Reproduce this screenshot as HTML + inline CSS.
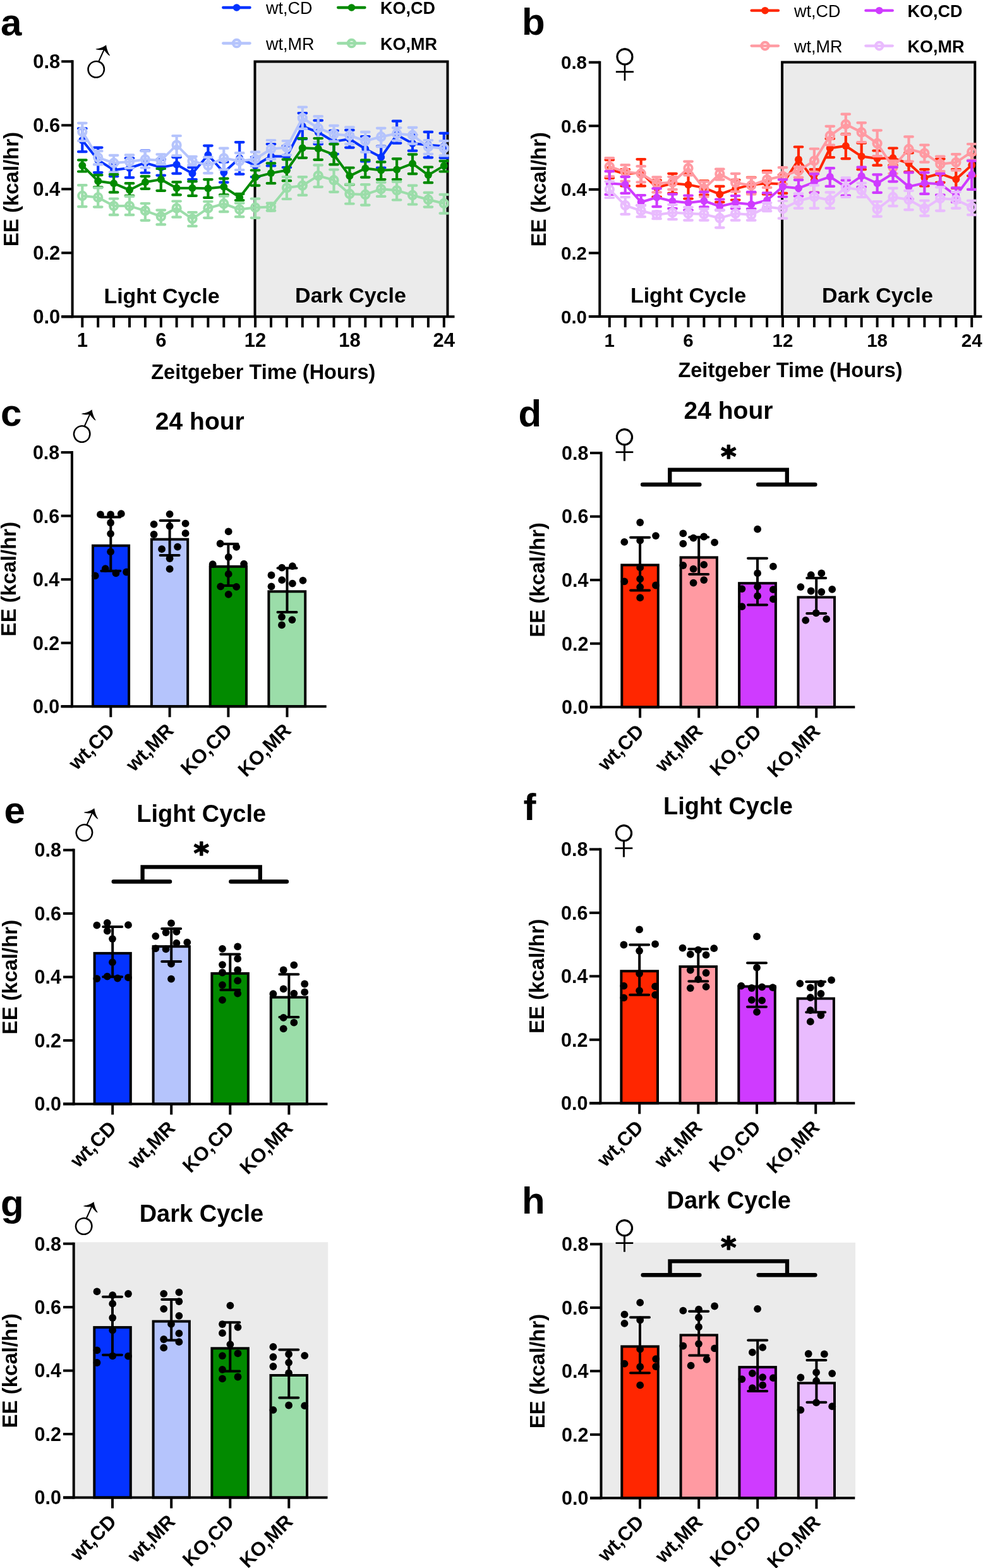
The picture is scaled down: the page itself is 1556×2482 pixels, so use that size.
<!DOCTYPE html>
<html><head><meta charset="utf-8"><title>Energy expenditure</title>
<style>html,body{margin:0;padding:0;background:#fff;} svg{display:block;} text{font-family:'Liberation Sans', Arial, Helvetica, sans-serif;fill:#000;}</style>
</head><body>
<svg width="1556" height="2482" viewBox="0 0 1556 2482">
<rect width="1556" height="2482" fill="#fff"/>
<rect x="403.5" y="97.6" width="305.0" height="403.7" fill="#EBEBEB"/>
<path d="M403.5,501.3V97.6H708.5V501.3" stroke="#000" stroke-width="4" fill="none" stroke-linejoin="miter"/>
<clipPath id="clipA"><rect x="114.6" y="0" width="596.0" height="501.3"/></clipPath>
<g clip-path="url(#clipA)">
<path d="M130.3,203.4V240.2M124.0,203.4H136.6M124.0,240.2H136.6" stroke="#0433FF" stroke-width="4.2" fill="none" stroke-linecap="round"/>
<path d="M155.2,233.6V273.0M148.9,233.6H161.5M148.9,273.0H161.5" stroke="#0433FF" stroke-width="4.2" fill="none" stroke-linecap="round"/>
<path d="M180.1,258.9V279.1M173.8,258.9H186.4M173.8,279.1H186.4" stroke="#0433FF" stroke-width="4.2" fill="none" stroke-linecap="round"/>
<path d="M205.0,250.3V281.1M198.7,250.3H211.3M198.7,281.1H211.3" stroke="#0433FF" stroke-width="4.2" fill="none" stroke-linecap="round"/>
<path d="M229.9,238.7V273.5M223.6,238.7H236.2M223.6,273.5H236.2" stroke="#0433FF" stroke-width="4.2" fill="none" stroke-linecap="round"/>
<path d="M254.8,252.3V277.6M248.4,252.3H261.1M248.4,277.6H261.1" stroke="#0433FF" stroke-width="4.2" fill="none" stroke-linecap="round"/>
<path d="M279.6,248.8V274.6M273.3,248.8H285.9M273.3,274.6H285.9" stroke="#0433FF" stroke-width="4.2" fill="none" stroke-linecap="round"/>
<path d="M304.5,265.0V284.1M298.2,265.0H310.8M298.2,284.1H310.8" stroke="#0433FF" stroke-width="4.2" fill="none" stroke-linecap="round"/>
<path d="M329.4,230.6V259.9M323.1,230.6H335.7M323.1,259.9H335.7" stroke="#0433FF" stroke-width="4.2" fill="none" stroke-linecap="round"/>
<path d="M354.3,256.4V288.7M348.0,256.4H360.6M348.0,288.7H360.6" stroke="#0433FF" stroke-width="4.2" fill="none" stroke-linecap="round"/>
<path d="M379.2,225.1V275.6M372.9,225.1H385.5M372.9,275.6H385.5" stroke="#0433FF" stroke-width="4.2" fill="none" stroke-linecap="round"/>
<path d="M404.1,248.8V280.1M397.8,248.8H410.4M397.8,280.1H410.4" stroke="#0433FF" stroke-width="4.2" fill="none" stroke-linecap="round"/>
<path d="M429.0,228.1V262.4M422.7,228.1H435.3M422.7,262.4H435.3" stroke="#0433FF" stroke-width="4.2" fill="none" stroke-linecap="round"/>
<path d="M453.9,231.1V265.0M447.6,231.1H460.2M447.6,265.0H460.2" stroke="#0433FF" stroke-width="4.2" fill="none" stroke-linecap="round"/>
<path d="M478.8,179.1V220.0M472.5,179.1H485.1M472.5,220.0H485.1" stroke="#0433FF" stroke-width="4.2" fill="none" stroke-linecap="round"/>
<path d="M503.7,190.7V228.1M497.4,190.7H510.0M497.4,228.1H510.0" stroke="#0433FF" stroke-width="4.2" fill="none" stroke-linecap="round"/>
<path d="M528.5,206.9V243.8M522.2,206.9H534.8M522.2,243.8H534.8" stroke="#0433FF" stroke-width="4.2" fill="none" stroke-linecap="round"/>
<path d="M553.4,205.9V233.6M547.1,205.9H559.7M547.1,233.6H559.7" stroke="#0433FF" stroke-width="4.2" fill="none" stroke-linecap="round"/>
<path d="M578.3,216.0V255.4M572.0,216.0H584.6M572.0,255.4H584.6" stroke="#0433FF" stroke-width="4.2" fill="none" stroke-linecap="round"/>
<path d="M603.2,231.6V265.5M596.9,231.6H609.5M596.9,265.5H609.5" stroke="#0433FF" stroke-width="4.2" fill="none" stroke-linecap="round"/>
<path d="M628.1,191.7V226.6M621.8,191.7H634.4M621.8,226.6H634.4" stroke="#0433FF" stroke-width="4.2" fill="none" stroke-linecap="round"/>
<path d="M653.0,213.5V238.7M646.7,213.5H659.3M646.7,238.7H659.3" stroke="#0433FF" stroke-width="4.2" fill="none" stroke-linecap="round"/>
<path d="M677.9,208.9V249.3M671.6,208.9H684.2M671.6,249.3H684.2" stroke="#0433FF" stroke-width="4.2" fill="none" stroke-linecap="round"/>
<path d="M702.8,210.9V249.8M696.5,210.9H709.1M696.5,249.8H709.1" stroke="#0433FF" stroke-width="4.2" fill="none" stroke-linecap="round"/>
<path d="M130.3,222.0 L155.2,253.3 L180.1,269.0 L205.0,266.0 L229.9,257.9 L254.8,265.0 L279.6,260.4 L304.5,274.6 L329.4,245.3 L354.3,273.0 L379.2,250.3 L404.1,261.9 L429.0,247.3 L453.9,247.8 L478.8,199.8 L503.7,209.4 L528.5,224.1 L553.4,220.0 L578.3,235.7 L603.2,248.8 L628.1,213.5 L653.0,227.1 L677.9,229.6 L702.8,231.6" stroke="#0433FF" stroke-width="4" fill="none" stroke-linejoin="round"/>
<circle cx="130.3" cy="222.0" r="6.0" fill="#0433FF"/>
<circle cx="155.2" cy="253.3" r="6.0" fill="#0433FF"/>
<circle cx="180.1" cy="269.0" r="6.0" fill="#0433FF"/>
<circle cx="205.0" cy="266.0" r="6.0" fill="#0433FF"/>
<circle cx="229.9" cy="257.9" r="6.0" fill="#0433FF"/>
<circle cx="254.8" cy="265.0" r="6.0" fill="#0433FF"/>
<circle cx="279.6" cy="260.4" r="6.0" fill="#0433FF"/>
<circle cx="304.5" cy="274.6" r="6.0" fill="#0433FF"/>
<circle cx="329.4" cy="245.3" r="6.0" fill="#0433FF"/>
<circle cx="354.3" cy="273.0" r="6.0" fill="#0433FF"/>
<circle cx="379.2" cy="250.3" r="6.0" fill="#0433FF"/>
<circle cx="404.1" cy="261.9" r="6.0" fill="#0433FF"/>
<circle cx="429.0" cy="247.3" r="6.0" fill="#0433FF"/>
<circle cx="453.9" cy="247.8" r="6.0" fill="#0433FF"/>
<circle cx="478.8" cy="199.8" r="6.0" fill="#0433FF"/>
<circle cx="503.7" cy="209.4" r="6.0" fill="#0433FF"/>
<circle cx="528.5" cy="224.1" r="6.0" fill="#0433FF"/>
<circle cx="553.4" cy="220.0" r="6.0" fill="#0433FF"/>
<circle cx="578.3" cy="235.7" r="6.0" fill="#0433FF"/>
<circle cx="603.2" cy="248.8" r="6.0" fill="#0433FF"/>
<circle cx="628.1" cy="213.5" r="6.0" fill="#0433FF"/>
<circle cx="653.0" cy="227.1" r="6.0" fill="#0433FF"/>
<circle cx="677.9" cy="229.6" r="6.0" fill="#0433FF"/>
<circle cx="702.8" cy="231.6" r="6.0" fill="#0433FF"/>
<path d="M130.3,194.8V223.0M124.0,194.8H136.6M124.0,223.0H136.6" stroke="#B5C4FC" stroke-width="4.2" fill="none" stroke-linecap="round"/>
<path d="M155.2,239.2V260.4M148.9,239.2H161.5M148.9,260.4H161.5" stroke="#B5C4FC" stroke-width="4.2" fill="none" stroke-linecap="round"/>
<path d="M180.1,245.8V272.5M173.8,245.8H186.4M173.8,272.5H186.4" stroke="#B5C4FC" stroke-width="4.2" fill="none" stroke-linecap="round"/>
<path d="M205.0,245.3V266.0M198.7,245.3H211.3M198.7,266.0H211.3" stroke="#B5C4FC" stroke-width="4.2" fill="none" stroke-linecap="round"/>
<path d="M229.9,239.2V265.5M223.6,239.2H236.2M223.6,265.5H236.2" stroke="#B5C4FC" stroke-width="4.2" fill="none" stroke-linecap="round"/>
<path d="M254.8,244.3V259.9M248.4,244.3H261.1M248.4,259.9H261.1" stroke="#B5C4FC" stroke-width="4.2" fill="none" stroke-linecap="round"/>
<path d="M279.6,215.0V246.3M273.3,215.0H285.9M273.3,246.3H285.9" stroke="#B5C4FC" stroke-width="4.2" fill="none" stroke-linecap="round"/>
<path d="M304.5,247.8V261.4M298.2,247.8H310.8M298.2,261.4H310.8" stroke="#B5C4FC" stroke-width="4.2" fill="none" stroke-linecap="round"/>
<path d="M329.4,248.8V274.1M323.1,248.8H335.7M323.1,274.1H335.7" stroke="#B5C4FC" stroke-width="4.2" fill="none" stroke-linecap="round"/>
<path d="M354.3,234.7V268.5M348.0,234.7H360.6M348.0,268.5H360.6" stroke="#B5C4FC" stroke-width="4.2" fill="none" stroke-linecap="round"/>
<path d="M379.2,242.2V269.0M372.9,242.2H385.5M372.9,269.0H385.5" stroke="#B5C4FC" stroke-width="4.2" fill="none" stroke-linecap="round"/>
<path d="M404.1,240.7V262.9M397.8,240.7H410.4M397.8,262.9H410.4" stroke="#B5C4FC" stroke-width="4.2" fill="none" stroke-linecap="round"/>
<path d="M429.0,222.0V251.8M422.7,222.0H435.3M422.7,251.8H435.3" stroke="#B5C4FC" stroke-width="4.2" fill="none" stroke-linecap="round"/>
<path d="M453.9,223.0V245.3M447.6,223.0H460.2M447.6,245.3H460.2" stroke="#B5C4FC" stroke-width="4.2" fill="none" stroke-linecap="round"/>
<path d="M478.8,169.5V203.9M472.5,169.5H485.1M472.5,203.9H485.1" stroke="#B5C4FC" stroke-width="4.2" fill="none" stroke-linecap="round"/>
<path d="M503.7,184.2V225.1M497.4,184.2H510.0M497.4,225.1H510.0" stroke="#B5C4FC" stroke-width="4.2" fill="none" stroke-linecap="round"/>
<path d="M528.5,198.8V223.6M522.2,198.8H534.8M522.2,223.6H534.8" stroke="#B5C4FC" stroke-width="4.2" fill="none" stroke-linecap="round"/>
<path d="M553.4,201.3V228.1M547.1,201.3H559.7M547.1,228.1H559.7" stroke="#B5C4FC" stroke-width="4.2" fill="none" stroke-linecap="round"/>
<path d="M578.3,208.9V240.7M572.0,208.9H584.6M572.0,240.7H584.6" stroke="#B5C4FC" stroke-width="4.2" fill="none" stroke-linecap="round"/>
<path d="M603.2,202.8V232.1M596.9,202.8H609.5M596.9,232.1H609.5" stroke="#B5C4FC" stroke-width="4.2" fill="none" stroke-linecap="round"/>
<path d="M628.1,202.3V222.5M621.8,202.3H634.4M621.8,222.5H634.4" stroke="#B5C4FC" stroke-width="4.2" fill="none" stroke-linecap="round"/>
<path d="M653.0,201.8V227.6M646.7,201.8H659.3M646.7,227.6H659.3" stroke="#B5C4FC" stroke-width="4.2" fill="none" stroke-linecap="round"/>
<path d="M677.9,222.0V243.8M671.6,222.0H684.2M671.6,243.8H684.2" stroke="#B5C4FC" stroke-width="4.2" fill="none" stroke-linecap="round"/>
<path d="M702.8,223.0V246.3M696.5,223.0H709.1M696.5,246.3H709.1" stroke="#B5C4FC" stroke-width="4.2" fill="none" stroke-linecap="round"/>
<path d="M130.3,208.4 L155.2,249.3 L180.1,257.9 L205.0,255.9 L229.9,252.3 L254.8,253.9 L279.6,229.6 L304.5,254.9 L329.4,261.9 L354.3,250.3 L379.2,254.9 L404.1,251.8 L429.0,235.7 L453.9,233.6 L478.8,186.7 L503.7,202.8 L528.5,212.4 L553.4,214.5 L578.3,223.0 L603.2,216.5 L628.1,211.4 L653.0,214.0 L677.9,232.6 L702.8,234.7" stroke="#B5C4FC" stroke-width="4" fill="none" stroke-linejoin="round"/>
<circle cx="130.3" cy="208.4" r="6.1" fill="none" stroke="#B5C4FC" stroke-width="4.1"/>
<circle cx="155.2" cy="249.3" r="6.1" fill="none" stroke="#B5C4FC" stroke-width="4.1"/>
<circle cx="180.1" cy="257.9" r="6.1" fill="none" stroke="#B5C4FC" stroke-width="4.1"/>
<circle cx="205.0" cy="255.9" r="6.1" fill="none" stroke="#B5C4FC" stroke-width="4.1"/>
<circle cx="229.9" cy="252.3" r="6.1" fill="none" stroke="#B5C4FC" stroke-width="4.1"/>
<circle cx="254.8" cy="253.9" r="6.1" fill="none" stroke="#B5C4FC" stroke-width="4.1"/>
<circle cx="279.6" cy="229.6" r="6.1" fill="none" stroke="#B5C4FC" stroke-width="4.1"/>
<circle cx="304.5" cy="254.9" r="6.1" fill="none" stroke="#B5C4FC" stroke-width="4.1"/>
<circle cx="329.4" cy="261.9" r="6.1" fill="none" stroke="#B5C4FC" stroke-width="4.1"/>
<circle cx="354.3" cy="250.3" r="6.1" fill="none" stroke="#B5C4FC" stroke-width="4.1"/>
<circle cx="379.2" cy="254.9" r="6.1" fill="none" stroke="#B5C4FC" stroke-width="4.1"/>
<circle cx="404.1" cy="251.8" r="6.1" fill="none" stroke="#B5C4FC" stroke-width="4.1"/>
<circle cx="429.0" cy="235.7" r="6.1" fill="none" stroke="#B5C4FC" stroke-width="4.1"/>
<circle cx="453.9" cy="233.6" r="6.1" fill="none" stroke="#B5C4FC" stroke-width="4.1"/>
<circle cx="478.8" cy="186.7" r="6.1" fill="none" stroke="#B5C4FC" stroke-width="4.1"/>
<circle cx="503.7" cy="202.8" r="6.1" fill="none" stroke="#B5C4FC" stroke-width="4.1"/>
<circle cx="528.5" cy="212.4" r="6.1" fill="none" stroke="#B5C4FC" stroke-width="4.1"/>
<circle cx="553.4" cy="214.5" r="6.1" fill="none" stroke="#B5C4FC" stroke-width="4.1"/>
<circle cx="578.3" cy="223.0" r="6.1" fill="none" stroke="#B5C4FC" stroke-width="4.1"/>
<circle cx="603.2" cy="216.5" r="6.1" fill="none" stroke="#B5C4FC" stroke-width="4.1"/>
<circle cx="628.1" cy="211.4" r="6.1" fill="none" stroke="#B5C4FC" stroke-width="4.1"/>
<circle cx="653.0" cy="214.0" r="6.1" fill="none" stroke="#B5C4FC" stroke-width="4.1"/>
<circle cx="677.9" cy="232.6" r="6.1" fill="none" stroke="#B5C4FC" stroke-width="4.1"/>
<circle cx="702.8" cy="234.7" r="6.1" fill="none" stroke="#B5C4FC" stroke-width="4.1"/>
<path d="M130.3,253.3V271.5M124.0,253.3H136.6M124.0,271.5H136.6" stroke="#028A00" stroke-width="4.2" fill="none" stroke-linecap="round"/>
<path d="M155.2,277.1V296.3M148.9,277.1H161.5M148.9,296.3H161.5" stroke="#028A00" stroke-width="4.2" fill="none" stroke-linecap="round"/>
<path d="M180.1,276.1V304.4M173.8,276.1H186.4M173.8,304.4H186.4" stroke="#028A00" stroke-width="4.2" fill="none" stroke-linecap="round"/>
<path d="M205.0,290.2V309.9M198.7,290.2H211.3M198.7,309.9H211.3" stroke="#028A00" stroke-width="4.2" fill="none" stroke-linecap="round"/>
<path d="M229.9,279.1V298.8M223.6,279.1H236.2M223.6,298.8H236.2" stroke="#028A00" stroke-width="4.2" fill="none" stroke-linecap="round"/>
<path d="M254.8,267.0V301.8M248.4,267.0H261.1M248.4,301.8H261.1" stroke="#028A00" stroke-width="4.2" fill="none" stroke-linecap="round"/>
<path d="M279.6,288.2V308.4M273.3,288.2H285.9M273.3,308.4H285.9" stroke="#028A00" stroke-width="4.2" fill="none" stroke-linecap="round"/>
<path d="M304.5,287.2V309.9M298.2,287.2H310.8M298.2,309.9H310.8" stroke="#028A00" stroke-width="4.2" fill="none" stroke-linecap="round"/>
<path d="M329.4,284.1V312.9M323.1,284.1H335.7M323.1,312.9H335.7" stroke="#028A00" stroke-width="4.2" fill="none" stroke-linecap="round"/>
<path d="M354.3,282.6V308.4M348.0,282.6H360.6M348.0,308.4H360.6" stroke="#028A00" stroke-width="4.2" fill="none" stroke-linecap="round"/>
<path d="M379.2,306.9V317.0M372.9,306.9H385.5M372.9,317.0H385.5" stroke="#028A00" stroke-width="4.2" fill="none" stroke-linecap="round"/>
<path d="M404.1,269.5V293.7M397.8,269.5H410.4M397.8,293.7H410.4" stroke="#028A00" stroke-width="4.2" fill="none" stroke-linecap="round"/>
<path d="M429.0,258.4V290.2M422.7,258.4H435.3M422.7,290.2H435.3" stroke="#028A00" stroke-width="4.2" fill="none" stroke-linecap="round"/>
<path d="M453.9,252.3V286.2M447.6,252.3H460.2M447.6,286.2H460.2" stroke="#028A00" stroke-width="4.2" fill="none" stroke-linecap="round"/>
<path d="M478.8,219.0V249.8M472.5,219.0H485.1M472.5,249.8H485.1" stroke="#028A00" stroke-width="4.2" fill="none" stroke-linecap="round"/>
<path d="M503.7,219.0V252.8M497.4,219.0H510.0M497.4,252.8H510.0" stroke="#028A00" stroke-width="4.2" fill="none" stroke-linecap="round"/>
<path d="M528.5,228.1V260.4M522.2,228.1H534.8M522.2,260.4H534.8" stroke="#028A00" stroke-width="4.2" fill="none" stroke-linecap="round"/>
<path d="M553.4,265.5V292.2M547.1,265.5H559.7M547.1,292.2H559.7" stroke="#028A00" stroke-width="4.2" fill="none" stroke-linecap="round"/>
<path d="M578.3,253.3V280.6M572.0,253.3H584.6M572.0,280.6H584.6" stroke="#028A00" stroke-width="4.2" fill="none" stroke-linecap="round"/>
<path d="M603.2,256.4V284.1M596.9,256.4H609.5M596.9,284.1H609.5" stroke="#028A00" stroke-width="4.2" fill="none" stroke-linecap="round"/>
<path d="M628.1,251.3V284.1M621.8,251.3H634.4M621.8,284.1H634.4" stroke="#028A00" stroke-width="4.2" fill="none" stroke-linecap="round"/>
<path d="M653.0,244.3V275.1M646.7,244.3H659.3M646.7,275.1H659.3" stroke="#028A00" stroke-width="4.2" fill="none" stroke-linecap="round"/>
<path d="M677.9,264.5V289.2M671.6,264.5H684.2M671.6,289.2H684.2" stroke="#028A00" stroke-width="4.2" fill="none" stroke-linecap="round"/>
<path d="M702.8,254.9V271.5M696.5,254.9H709.1M696.5,271.5H709.1" stroke="#028A00" stroke-width="4.2" fill="none" stroke-linecap="round"/>
<path d="M130.3,261.9 L155.2,286.7 L180.1,290.2 L205.0,300.8 L229.9,288.2 L254.8,284.1 L279.6,297.8 L304.5,297.8 L329.4,298.3 L354.3,295.8 L379.2,312.4 L404.1,280.6 L429.0,274.1 L453.9,269.5 L478.8,234.2 L503.7,235.2 L528.5,244.8 L553.4,278.6 L578.3,266.5 L603.2,269.5 L628.1,268.5 L653.0,258.9 L677.9,277.1 L702.8,262.4" stroke="#028A00" stroke-width="4" fill="none" stroke-linejoin="round"/>
<circle cx="130.3" cy="261.9" r="6.0" fill="#028A00"/>
<circle cx="155.2" cy="286.7" r="6.0" fill="#028A00"/>
<circle cx="180.1" cy="290.2" r="6.0" fill="#028A00"/>
<circle cx="205.0" cy="300.8" r="6.0" fill="#028A00"/>
<circle cx="229.9" cy="288.2" r="6.0" fill="#028A00"/>
<circle cx="254.8" cy="284.1" r="6.0" fill="#028A00"/>
<circle cx="279.6" cy="297.8" r="6.0" fill="#028A00"/>
<circle cx="304.5" cy="297.8" r="6.0" fill="#028A00"/>
<circle cx="329.4" cy="298.3" r="6.0" fill="#028A00"/>
<circle cx="354.3" cy="295.8" r="6.0" fill="#028A00"/>
<circle cx="379.2" cy="312.4" r="6.0" fill="#028A00"/>
<circle cx="404.1" cy="280.6" r="6.0" fill="#028A00"/>
<circle cx="429.0" cy="274.1" r="6.0" fill="#028A00"/>
<circle cx="453.9" cy="269.5" r="6.0" fill="#028A00"/>
<circle cx="478.8" cy="234.2" r="6.0" fill="#028A00"/>
<circle cx="503.7" cy="235.2" r="6.0" fill="#028A00"/>
<circle cx="528.5" cy="244.8" r="6.0" fill="#028A00"/>
<circle cx="553.4" cy="278.6" r="6.0" fill="#028A00"/>
<circle cx="578.3" cy="266.5" r="6.0" fill="#028A00"/>
<circle cx="603.2" cy="269.5" r="6.0" fill="#028A00"/>
<circle cx="628.1" cy="268.5" r="6.0" fill="#028A00"/>
<circle cx="653.0" cy="258.9" r="6.0" fill="#028A00"/>
<circle cx="677.9" cy="277.1" r="6.0" fill="#028A00"/>
<circle cx="702.8" cy="262.4" r="6.0" fill="#028A00"/>
<path d="M130.3,293.2V327.1M124.0,293.2H136.6M124.0,327.1H136.6" stroke="#9BDDA9" stroke-width="4.2" fill="none" stroke-linecap="round"/>
<path d="M155.2,297.3V327.6M148.9,297.3H161.5M148.9,327.6H161.5" stroke="#9BDDA9" stroke-width="4.2" fill="none" stroke-linecap="round"/>
<path d="M180.1,314.5V340.2M173.8,314.5H186.4M173.8,340.2H186.4" stroke="#9BDDA9" stroke-width="4.2" fill="none" stroke-linecap="round"/>
<path d="M205.0,310.9V340.2M198.7,310.9H211.3M198.7,340.2H211.3" stroke="#9BDDA9" stroke-width="4.2" fill="none" stroke-linecap="round"/>
<path d="M229.9,322.0V348.8M223.6,322.0H236.2M223.6,348.8H236.2" stroke="#9BDDA9" stroke-width="4.2" fill="none" stroke-linecap="round"/>
<path d="M254.8,332.6V355.4M248.4,332.6H261.1M248.4,355.4H261.1" stroke="#9BDDA9" stroke-width="4.2" fill="none" stroke-linecap="round"/>
<path d="M279.6,318.5V343.7M273.3,318.5H285.9M273.3,343.7H285.9" stroke="#9BDDA9" stroke-width="4.2" fill="none" stroke-linecap="round"/>
<path d="M304.5,336.2V357.9M298.2,336.2H310.8M298.2,357.9H310.8" stroke="#9BDDA9" stroke-width="4.2" fill="none" stroke-linecap="round"/>
<path d="M329.4,319.0V344.8M323.1,319.0H335.7M323.1,344.8H335.7" stroke="#9BDDA9" stroke-width="4.2" fill="none" stroke-linecap="round"/>
<path d="M354.3,310.4V335.2M348.0,310.4H360.6M348.0,335.2H360.6" stroke="#9BDDA9" stroke-width="4.2" fill="none" stroke-linecap="round"/>
<path d="M379.2,321.5V343.2M372.9,321.5H385.5M372.9,343.2H385.5" stroke="#9BDDA9" stroke-width="4.2" fill="none" stroke-linecap="round"/>
<path d="M404.1,314.5V344.8M397.8,314.5H410.4M397.8,344.8H410.4" stroke="#9BDDA9" stroke-width="4.2" fill="none" stroke-linecap="round"/>
<path d="M429.0,321.5V333.6M422.7,321.5H435.3M422.7,333.6H435.3" stroke="#9BDDA9" stroke-width="4.2" fill="none" stroke-linecap="round"/>
<path d="M453.9,280.1V315.0M447.6,280.1H460.2M447.6,315.0H460.2" stroke="#9BDDA9" stroke-width="4.2" fill="none" stroke-linecap="round"/>
<path d="M478.8,280.1V308.9M472.5,280.1H485.1M472.5,308.9H485.1" stroke="#9BDDA9" stroke-width="4.2" fill="none" stroke-linecap="round"/>
<path d="M503.7,261.4V295.8M497.4,261.4H510.0M497.4,295.8H510.0" stroke="#9BDDA9" stroke-width="4.2" fill="none" stroke-linecap="round"/>
<path d="M528.5,268.5V303.8M522.2,268.5H534.8M522.2,303.8H534.8" stroke="#9BDDA9" stroke-width="4.2" fill="none" stroke-linecap="round"/>
<path d="M553.4,291.7V322.5M547.1,291.7H559.7M547.1,322.5H559.7" stroke="#9BDDA9" stroke-width="4.2" fill="none" stroke-linecap="round"/>
<path d="M578.3,292.2V324.6M572.0,292.2H584.6M572.0,324.6H584.6" stroke="#9BDDA9" stroke-width="4.2" fill="none" stroke-linecap="round"/>
<path d="M603.2,288.7V310.9M596.9,288.7H609.5M596.9,310.9H609.5" stroke="#9BDDA9" stroke-width="4.2" fill="none" stroke-linecap="round"/>
<path d="M628.1,287.7V316.5M621.8,287.7H634.4M621.8,316.5H634.4" stroke="#9BDDA9" stroke-width="4.2" fill="none" stroke-linecap="round"/>
<path d="M653.0,293.7V323.5M646.7,293.7H659.3M646.7,323.5H659.3" stroke="#9BDDA9" stroke-width="4.2" fill="none" stroke-linecap="round"/>
<path d="M677.9,304.9V327.6M671.6,304.9H684.2M671.6,327.6H684.2" stroke="#9BDDA9" stroke-width="4.2" fill="none" stroke-linecap="round"/>
<path d="M702.8,307.9V337.7M696.5,307.9H709.1M696.5,337.7H709.1" stroke="#9BDDA9" stroke-width="4.2" fill="none" stroke-linecap="round"/>
<path d="M130.3,309.9 L155.2,312.4 L180.1,326.1 L205.0,326.1 L229.9,333.6 L254.8,342.7 L279.6,329.6 L304.5,346.3 L329.4,329.6 L354.3,322.5 L379.2,331.6 L404.1,328.6 L429.0,327.6 L453.9,297.3 L478.8,293.7 L503.7,278.1 L528.5,285.2 L553.4,306.9 L578.3,307.9 L603.2,299.3 L628.1,301.3 L653.0,308.9 L677.9,316.0 L702.8,322.0" stroke="#9BDDA9" stroke-width="4" fill="none" stroke-linejoin="round"/>
<circle cx="130.3" cy="309.9" r="6.1" fill="none" stroke="#9BDDA9" stroke-width="4.1"/>
<circle cx="155.2" cy="312.4" r="6.1" fill="none" stroke="#9BDDA9" stroke-width="4.1"/>
<circle cx="180.1" cy="326.1" r="6.1" fill="none" stroke="#9BDDA9" stroke-width="4.1"/>
<circle cx="205.0" cy="326.1" r="6.1" fill="none" stroke="#9BDDA9" stroke-width="4.1"/>
<circle cx="229.9" cy="333.6" r="6.1" fill="none" stroke="#9BDDA9" stroke-width="4.1"/>
<circle cx="254.8" cy="342.7" r="6.1" fill="none" stroke="#9BDDA9" stroke-width="4.1"/>
<circle cx="279.6" cy="329.6" r="6.1" fill="none" stroke="#9BDDA9" stroke-width="4.1"/>
<circle cx="304.5" cy="346.3" r="6.1" fill="none" stroke="#9BDDA9" stroke-width="4.1"/>
<circle cx="329.4" cy="329.6" r="6.1" fill="none" stroke="#9BDDA9" stroke-width="4.1"/>
<circle cx="354.3" cy="322.5" r="6.1" fill="none" stroke="#9BDDA9" stroke-width="4.1"/>
<circle cx="379.2" cy="331.6" r="6.1" fill="none" stroke="#9BDDA9" stroke-width="4.1"/>
<circle cx="404.1" cy="328.6" r="6.1" fill="none" stroke="#9BDDA9" stroke-width="4.1"/>
<circle cx="429.0" cy="327.6" r="6.1" fill="none" stroke="#9BDDA9" stroke-width="4.1"/>
<circle cx="453.9" cy="297.3" r="6.1" fill="none" stroke="#9BDDA9" stroke-width="4.1"/>
<circle cx="478.8" cy="293.7" r="6.1" fill="none" stroke="#9BDDA9" stroke-width="4.1"/>
<circle cx="503.7" cy="278.1" r="6.1" fill="none" stroke="#9BDDA9" stroke-width="4.1"/>
<circle cx="528.5" cy="285.2" r="6.1" fill="none" stroke="#9BDDA9" stroke-width="4.1"/>
<circle cx="553.4" cy="306.9" r="6.1" fill="none" stroke="#9BDDA9" stroke-width="4.1"/>
<circle cx="578.3" cy="307.9" r="6.1" fill="none" stroke="#9BDDA9" stroke-width="4.1"/>
<circle cx="603.2" cy="299.3" r="6.1" fill="none" stroke="#9BDDA9" stroke-width="4.1"/>
<circle cx="628.1" cy="301.3" r="6.1" fill="none" stroke="#9BDDA9" stroke-width="4.1"/>
<circle cx="653.0" cy="308.9" r="6.1" fill="none" stroke="#9BDDA9" stroke-width="4.1"/>
<circle cx="677.9" cy="316.0" r="6.1" fill="none" stroke="#9BDDA9" stroke-width="4.1"/>
<circle cx="702.8" cy="322.0" r="6.1" fill="none" stroke="#9BDDA9" stroke-width="4.1"/>
</g>
<line x1="114.6" y1="95.3" x2="114.6" y2="503.3" stroke="#000" stroke-width="4" stroke-linecap="butt"/>
<line x1="97.2" y1="501.3" x2="114.6" y2="501.3" stroke="#000" stroke-width="4" stroke-linecap="butt"/>
<text x="95.3" y="512.3" font-size="31" font-weight="bold" text-anchor="end" >0.0</text>
<line x1="97.2" y1="400.3" x2="114.6" y2="400.3" stroke="#000" stroke-width="4" stroke-linecap="butt"/>
<text x="95.3" y="411.3" font-size="31" font-weight="bold" text-anchor="end" >0.2</text>
<line x1="97.2" y1="299.3" x2="114.6" y2="299.3" stroke="#000" stroke-width="4" stroke-linecap="butt"/>
<text x="95.3" y="310.3" font-size="31" font-weight="bold" text-anchor="end" >0.4</text>
<line x1="97.2" y1="198.3" x2="114.6" y2="198.3" stroke="#000" stroke-width="4" stroke-linecap="butt"/>
<text x="95.3" y="209.3" font-size="31" font-weight="bold" text-anchor="end" >0.6</text>
<line x1="97.2" y1="97.3" x2="114.6" y2="97.3" stroke="#000" stroke-width="4" stroke-linecap="butt"/>
<text x="95.3" y="108.3" font-size="31" font-weight="bold" text-anchor="end" >0.8</text>
<line x1="97.2" y1="501.3" x2="719.5" y2="501.3" stroke="#000" stroke-width="4" stroke-linecap="butt"/>
<line x1="130.3" y1="501.3" x2="130.3" y2="518.3" stroke="#000" stroke-width="4" stroke-linecap="butt"/>
<line x1="155.2" y1="501.3" x2="155.2" y2="518.3" stroke="#000" stroke-width="4" stroke-linecap="butt"/>
<line x1="180.1" y1="501.3" x2="180.1" y2="518.3" stroke="#000" stroke-width="4" stroke-linecap="butt"/>
<line x1="205.0" y1="501.3" x2="205.0" y2="518.3" stroke="#000" stroke-width="4" stroke-linecap="butt"/>
<line x1="229.9" y1="501.3" x2="229.9" y2="518.3" stroke="#000" stroke-width="4" stroke-linecap="butt"/>
<line x1="254.8" y1="501.3" x2="254.8" y2="518.3" stroke="#000" stroke-width="4" stroke-linecap="butt"/>
<line x1="279.6" y1="501.3" x2="279.6" y2="518.3" stroke="#000" stroke-width="4" stroke-linecap="butt"/>
<line x1="304.5" y1="501.3" x2="304.5" y2="518.3" stroke="#000" stroke-width="4" stroke-linecap="butt"/>
<line x1="329.4" y1="501.3" x2="329.4" y2="518.3" stroke="#000" stroke-width="4" stroke-linecap="butt"/>
<line x1="354.3" y1="501.3" x2="354.3" y2="518.3" stroke="#000" stroke-width="4" stroke-linecap="butt"/>
<line x1="379.2" y1="501.3" x2="379.2" y2="518.3" stroke="#000" stroke-width="4" stroke-linecap="butt"/>
<line x1="404.1" y1="501.3" x2="404.1" y2="518.3" stroke="#000" stroke-width="4" stroke-linecap="butt"/>
<line x1="429.0" y1="501.3" x2="429.0" y2="518.3" stroke="#000" stroke-width="4" stroke-linecap="butt"/>
<line x1="453.9" y1="501.3" x2="453.9" y2="518.3" stroke="#000" stroke-width="4" stroke-linecap="butt"/>
<line x1="478.8" y1="501.3" x2="478.8" y2="518.3" stroke="#000" stroke-width="4" stroke-linecap="butt"/>
<line x1="503.7" y1="501.3" x2="503.7" y2="518.3" stroke="#000" stroke-width="4" stroke-linecap="butt"/>
<line x1="528.5" y1="501.3" x2="528.5" y2="518.3" stroke="#000" stroke-width="4" stroke-linecap="butt"/>
<line x1="553.4" y1="501.3" x2="553.4" y2="518.3" stroke="#000" stroke-width="4" stroke-linecap="butt"/>
<line x1="578.3" y1="501.3" x2="578.3" y2="518.3" stroke="#000" stroke-width="4" stroke-linecap="butt"/>
<line x1="603.2" y1="501.3" x2="603.2" y2="518.3" stroke="#000" stroke-width="4" stroke-linecap="butt"/>
<line x1="628.1" y1="501.3" x2="628.1" y2="518.3" stroke="#000" stroke-width="4" stroke-linecap="butt"/>
<line x1="653.0" y1="501.3" x2="653.0" y2="518.3" stroke="#000" stroke-width="4" stroke-linecap="butt"/>
<line x1="677.9" y1="501.3" x2="677.9" y2="518.3" stroke="#000" stroke-width="4" stroke-linecap="butt"/>
<line x1="702.8" y1="501.3" x2="702.8" y2="518.3" stroke="#000" stroke-width="4" stroke-linecap="butt"/>
<text x="130.3" y="548.5" font-size="31" font-weight="bold" text-anchor="middle" >1</text>
<text x="254.8" y="548.5" font-size="31" font-weight="bold" text-anchor="middle" >6</text>
<text x="404.1" y="548.5" font-size="31" font-weight="bold" text-anchor="middle" >12</text>
<text x="553.4" y="548.5" font-size="31" font-weight="bold" text-anchor="middle" >18</text>
<text x="702.8" y="548.5" font-size="31" font-weight="bold" text-anchor="middle" >24</text>
<text x="256.0" y="479.6" font-size="34" font-weight="bold" text-anchor="middle" >Light Cycle</text>
<text x="555.0" y="479.3" font-size="34" font-weight="bold" text-anchor="middle" >Dark Cycle</text>
<text x="416.8" y="600.0" font-size="32.5" font-weight="bold" text-anchor="middle" >Zeitgeber Time (Hours)</text>
<line x1="353.2" y1="12.0" x2="395.6" y2="12.0" stroke="#0433FF" stroke-width="4.3" stroke-linecap="round"/>
<circle cx="374.6" cy="12.0" r="5.8" fill="#0433FF"/>
<text x="421.0" y="22.3" font-size="27" font-weight="normal" text-anchor="start" >wt,CD</text>
<line x1="535.1" y1="12.0" x2="577.5" y2="12.0" stroke="#028A00" stroke-width="4.3" stroke-linecap="round"/>
<circle cx="556.5" cy="12.0" r="5.8" fill="#028A00"/>
<text x="602.0" y="22.3" font-size="27" font-weight="bold" text-anchor="start" >KO,CD</text>
<line x1="353.2" y1="68.5" x2="395.6" y2="68.5" stroke="#B5C4FC" stroke-width="4.3" stroke-linecap="round"/>
<circle cx="374.6" cy="68.5" r="5.7" fill="none" stroke="#B5C4FC" stroke-width="4.2"/>
<text x="421.0" y="78.8" font-size="27" font-weight="normal" text-anchor="start" >wt,MR</text>
<line x1="535.1" y1="68.5" x2="577.5" y2="68.5" stroke="#9BDDA9" stroke-width="4.3" stroke-linecap="round"/>
<circle cx="556.5" cy="68.5" r="5.7" fill="none" stroke="#9BDDA9" stroke-width="4.2"/>
<text x="602.0" y="78.8" font-size="27" font-weight="bold" text-anchor="start" >KO,MR</text>
<rect x="1238.1" y="98.4" width="305.2" height="402.7" fill="#EBEBEB"/>
<path d="M1238.1,501.1V98.4H1543.3V501.1" stroke="#000" stroke-width="4" fill="none" stroke-linejoin="miter"/>
<clipPath id="clipB"><rect x="949.3" y="0" width="596.1" height="501.1"/></clipPath>
<g clip-path="url(#clipB)">
<path d="M964.8,253.1V281.8M958.5,253.1H971.1M958.5,281.8H971.1" stroke="#FF2600" stroke-width="4.2" fill="none" stroke-linecap="round"/>
<path d="M989.7,268.2V294.4M983.4,268.2H996.0M983.4,294.4H996.0" stroke="#FF2600" stroke-width="4.2" fill="none" stroke-linecap="round"/>
<path d="M1014.7,252.1V294.4M1008.4,252.1H1021.0M1008.4,294.4H1021.0" stroke="#FF2600" stroke-width="4.2" fill="none" stroke-linecap="round"/>
<path d="M1039.6,285.3V311.5M1033.3,285.3H1045.9M1033.3,311.5H1045.9" stroke="#FF2600" stroke-width="4.2" fill="none" stroke-linecap="round"/>
<path d="M1064.5,274.8V305.9M1058.2,274.8H1070.8M1058.2,305.9H1070.8" stroke="#FF2600" stroke-width="4.2" fill="none" stroke-linecap="round"/>
<path d="M1089.5,274.8V314.5M1083.2,274.8H1095.8M1083.2,314.5H1095.8" stroke="#FF2600" stroke-width="4.2" fill="none" stroke-linecap="round"/>
<path d="M1114.4,286.3V308.5M1108.1,286.3H1120.7M1108.1,308.5H1120.7" stroke="#FF2600" stroke-width="4.2" fill="none" stroke-linecap="round"/>
<path d="M1139.3,294.9V320.0M1133.0,294.9H1145.6M1133.0,320.0H1145.6" stroke="#FF2600" stroke-width="4.2" fill="none" stroke-linecap="round"/>
<path d="M1164.2,284.8V316.5M1157.9,284.8H1170.5M1157.9,316.5H1170.5" stroke="#FF2600" stroke-width="4.2" fill="none" stroke-linecap="round"/>
<path d="M1189.2,280.8V304.9M1182.9,280.8H1195.5M1182.9,304.9H1195.5" stroke="#FF2600" stroke-width="4.2" fill="none" stroke-linecap="round"/>
<path d="M1214.1,270.7V307.4M1207.8,270.7H1220.4M1207.8,307.4H1220.4" stroke="#FF2600" stroke-width="4.2" fill="none" stroke-linecap="round"/>
<path d="M1239.0,276.8V305.9M1232.7,276.8H1245.3M1232.7,305.9H1245.3" stroke="#FF2600" stroke-width="4.2" fill="none" stroke-linecap="round"/>
<path d="M1264.0,232.5V271.2M1257.7,232.5H1270.3M1257.7,271.2H1270.3" stroke="#FF2600" stroke-width="4.2" fill="none" stroke-linecap="round"/>
<path d="M1288.9,268.2V304.9M1282.6,268.2H1295.2M1282.6,304.9H1295.2" stroke="#FF2600" stroke-width="4.2" fill="none" stroke-linecap="round"/>
<path d="M1313.8,219.4V249.1M1307.5,219.4H1320.1M1307.5,249.1H1320.1" stroke="#FF2600" stroke-width="4.2" fill="none" stroke-linecap="round"/>
<path d="M1338.8,212.4V251.1M1332.5,212.4H1345.0M1332.5,251.1H1345.0" stroke="#FF2600" stroke-width="4.2" fill="none" stroke-linecap="round"/>
<path d="M1363.7,226.5V268.2M1357.4,226.5H1370.0M1357.4,268.2H1370.0" stroke="#FF2600" stroke-width="4.2" fill="none" stroke-linecap="round"/>
<path d="M1388.6,238.5V261.7M1382.3,238.5H1394.9M1382.3,261.7H1394.9" stroke="#FF2600" stroke-width="4.2" fill="none" stroke-linecap="round"/>
<path d="M1413.5,234.5V261.7M1407.2,234.5H1419.8M1407.2,261.7H1419.8" stroke="#FF2600" stroke-width="4.2" fill="none" stroke-linecap="round"/>
<path d="M1438.5,242.1V272.2M1432.2,242.1H1444.8M1432.2,272.2H1444.8" stroke="#FF2600" stroke-width="4.2" fill="none" stroke-linecap="round"/>
<path d="M1463.4,268.2V294.4M1457.1,268.2H1469.7M1457.1,294.4H1469.7" stroke="#FF2600" stroke-width="4.2" fill="none" stroke-linecap="round"/>
<path d="M1488.3,251.6V288.8M1482.0,251.6H1494.6M1482.0,288.8H1494.6" stroke="#FF2600" stroke-width="4.2" fill="none" stroke-linecap="round"/>
<path d="M1513.3,268.2V297.9M1507.0,268.2H1519.6M1507.0,297.9H1519.6" stroke="#FF2600" stroke-width="4.2" fill="none" stroke-linecap="round"/>
<path d="M1538.2,244.6V278.3M1531.9,244.6H1544.5M1531.9,278.3H1544.5" stroke="#FF2600" stroke-width="4.2" fill="none" stroke-linecap="round"/>
<path d="M964.8,268.2 L989.7,275.3 L1014.7,273.2 L1039.6,296.9 L1064.5,290.3 L1089.5,292.4 L1114.4,297.4 L1139.3,307.4 L1164.2,298.9 L1189.2,292.4 L1214.1,290.3 L1239.0,291.3 L1264.0,252.6 L1288.9,285.3 L1313.8,234.5 L1338.8,231.0 L1363.7,247.6 L1388.6,251.1 L1413.5,250.1 L1438.5,258.7 L1463.4,281.3 L1488.3,274.8 L1513.3,283.8 L1538.2,261.2" stroke="#FF2600" stroke-width="4" fill="none" stroke-linejoin="round"/>
<circle cx="964.8" cy="268.2" r="6.0" fill="#FF2600"/>
<circle cx="989.7" cy="275.3" r="6.0" fill="#FF2600"/>
<circle cx="1014.7" cy="273.2" r="6.0" fill="#FF2600"/>
<circle cx="1039.6" cy="296.9" r="6.0" fill="#FF2600"/>
<circle cx="1064.5" cy="290.3" r="6.0" fill="#FF2600"/>
<circle cx="1089.5" cy="292.4" r="6.0" fill="#FF2600"/>
<circle cx="1114.4" cy="297.4" r="6.0" fill="#FF2600"/>
<circle cx="1139.3" cy="307.4" r="6.0" fill="#FF2600"/>
<circle cx="1164.2" cy="298.9" r="6.0" fill="#FF2600"/>
<circle cx="1189.2" cy="292.4" r="6.0" fill="#FF2600"/>
<circle cx="1214.1" cy="290.3" r="6.0" fill="#FF2600"/>
<circle cx="1239.0" cy="291.3" r="6.0" fill="#FF2600"/>
<circle cx="1264.0" cy="252.6" r="6.0" fill="#FF2600"/>
<circle cx="1288.9" cy="285.3" r="6.0" fill="#FF2600"/>
<circle cx="1313.8" cy="234.5" r="6.0" fill="#FF2600"/>
<circle cx="1338.8" cy="231.0" r="6.0" fill="#FF2600"/>
<circle cx="1363.7" cy="247.6" r="6.0" fill="#FF2600"/>
<circle cx="1388.6" cy="251.1" r="6.0" fill="#FF2600"/>
<circle cx="1413.5" cy="250.1" r="6.0" fill="#FF2600"/>
<circle cx="1438.5" cy="258.7" r="6.0" fill="#FF2600"/>
<circle cx="1463.4" cy="281.3" r="6.0" fill="#FF2600"/>
<circle cx="1488.3" cy="274.8" r="6.0" fill="#FF2600"/>
<circle cx="1513.3" cy="283.8" r="6.0" fill="#FF2600"/>
<circle cx="1538.2" cy="261.2" r="6.0" fill="#FF2600"/>
<path d="M964.8,250.1V279.3M958.5,250.1H971.1M958.5,279.3H971.1" stroke="#FF9AA2" stroke-width="4.2" fill="none" stroke-linecap="round"/>
<path d="M989.7,261.2V286.8M983.4,261.2H996.0M983.4,286.8H996.0" stroke="#FF9AA2" stroke-width="4.2" fill="none" stroke-linecap="round"/>
<path d="M1014.7,263.2V288.3M1008.4,263.2H1021.0M1008.4,288.3H1021.0" stroke="#FF9AA2" stroke-width="4.2" fill="none" stroke-linecap="round"/>
<path d="M1039.6,280.3V304.4M1033.3,280.3H1045.9M1033.3,304.4H1045.9" stroke="#FF9AA2" stroke-width="4.2" fill="none" stroke-linecap="round"/>
<path d="M1064.5,279.8V299.9M1058.2,279.8H1070.8M1058.2,299.9H1070.8" stroke="#FF9AA2" stroke-width="4.2" fill="none" stroke-linecap="round"/>
<path d="M1089.5,255.6V277.3M1083.2,255.6H1095.8M1083.2,277.3H1095.8" stroke="#FF9AA2" stroke-width="4.2" fill="none" stroke-linecap="round"/>
<path d="M1114.4,287.3V311.5M1108.1,287.3H1120.7M1108.1,311.5H1120.7" stroke="#FF9AA2" stroke-width="4.2" fill="none" stroke-linecap="round"/>
<path d="M1139.3,267.7V284.3M1133.0,267.7H1145.6M1133.0,284.3H1145.6" stroke="#FF9AA2" stroke-width="4.2" fill="none" stroke-linecap="round"/>
<path d="M1164.2,274.8V303.4M1157.9,274.8H1170.5M1157.9,303.4H1170.5" stroke="#FF9AA2" stroke-width="4.2" fill="none" stroke-linecap="round"/>
<path d="M1189.2,281.3V307.4M1182.9,281.3H1195.5M1182.9,307.4H1195.5" stroke="#FF9AA2" stroke-width="4.2" fill="none" stroke-linecap="round"/>
<path d="M1214.1,273.2V296.9M1207.8,273.2H1220.4M1207.8,296.9H1220.4" stroke="#FF9AA2" stroke-width="4.2" fill="none" stroke-linecap="round"/>
<path d="M1239.0,265.2V291.3M1232.7,265.2H1245.3M1232.7,291.3H1245.3" stroke="#FF9AA2" stroke-width="4.2" fill="none" stroke-linecap="round"/>
<path d="M1264.0,264.2V280.8M1257.7,264.2H1270.3M1257.7,280.8H1270.3" stroke="#FF9AA2" stroke-width="4.2" fill="none" stroke-linecap="round"/>
<path d="M1288.9,235.5V272.7M1282.6,235.5H1295.2M1282.6,272.7H1295.2" stroke="#FF9AA2" stroke-width="4.2" fill="none" stroke-linecap="round"/>
<path d="M1313.8,199.8V229.5M1307.5,199.8H1320.1M1307.5,229.5H1320.1" stroke="#FF9AA2" stroke-width="4.2" fill="none" stroke-linecap="round"/>
<path d="M1338.8,180.7V212.9M1332.5,180.7H1345.0M1332.5,212.9H1345.0" stroke="#FF9AA2" stroke-width="4.2" fill="none" stroke-linecap="round"/>
<path d="M1363.7,194.3V225.0M1357.4,194.3H1370.0M1357.4,225.0H1370.0" stroke="#FF9AA2" stroke-width="4.2" fill="none" stroke-linecap="round"/>
<path d="M1388.6,206.3V247.1M1382.3,206.3H1394.9M1382.3,247.1H1394.9" stroke="#FF9AA2" stroke-width="4.2" fill="none" stroke-linecap="round"/>
<path d="M1413.5,254.6V274.8M1407.2,254.6H1419.8M1407.2,274.8H1419.8" stroke="#FF9AA2" stroke-width="4.2" fill="none" stroke-linecap="round"/>
<path d="M1438.5,216.4V255.6M1432.2,216.4H1444.8M1432.2,255.6H1444.8" stroke="#FF9AA2" stroke-width="4.2" fill="none" stroke-linecap="round"/>
<path d="M1463.4,229.5V256.6M1457.1,229.5H1469.7M1457.1,256.6H1469.7" stroke="#FF9AA2" stroke-width="4.2" fill="none" stroke-linecap="round"/>
<path d="M1488.3,247.6V271.2M1482.0,247.6H1494.6M1482.0,271.2H1494.6" stroke="#FF9AA2" stroke-width="4.2" fill="none" stroke-linecap="round"/>
<path d="M1513.3,244.1V269.7M1507.0,244.1H1519.6M1507.0,269.7H1519.6" stroke="#FF9AA2" stroke-width="4.2" fill="none" stroke-linecap="round"/>
<path d="M1538.2,228.0V253.6M1531.9,228.0H1544.5M1531.9,253.6H1544.5" stroke="#FF9AA2" stroke-width="4.2" fill="none" stroke-linecap="round"/>
<path d="M964.8,263.7 L989.7,272.2 L1014.7,274.8 L1039.6,290.3 L1064.5,288.8 L1089.5,266.2 L1114.4,298.9 L1139.3,275.3 L1164.2,289.3 L1189.2,293.4 L1214.1,284.3 L1239.0,278.8 L1264.0,270.2 L1288.9,254.6 L1313.8,214.9 L1338.8,196.8 L1363.7,209.4 L1388.6,227.0 L1413.5,264.7 L1438.5,236.0 L1463.4,242.6 L1488.3,259.7 L1513.3,257.1 L1538.2,240.5" stroke="#FF9AA2" stroke-width="4" fill="none" stroke-linejoin="round"/>
<circle cx="964.8" cy="263.7" r="6.1" fill="none" stroke="#FF9AA2" stroke-width="4.1"/>
<circle cx="989.7" cy="272.2" r="6.1" fill="none" stroke="#FF9AA2" stroke-width="4.1"/>
<circle cx="1014.7" cy="274.8" r="6.1" fill="none" stroke="#FF9AA2" stroke-width="4.1"/>
<circle cx="1039.6" cy="290.3" r="6.1" fill="none" stroke="#FF9AA2" stroke-width="4.1"/>
<circle cx="1064.5" cy="288.8" r="6.1" fill="none" stroke="#FF9AA2" stroke-width="4.1"/>
<circle cx="1089.5" cy="266.2" r="6.1" fill="none" stroke="#FF9AA2" stroke-width="4.1"/>
<circle cx="1114.4" cy="298.9" r="6.1" fill="none" stroke="#FF9AA2" stroke-width="4.1"/>
<circle cx="1139.3" cy="275.3" r="6.1" fill="none" stroke="#FF9AA2" stroke-width="4.1"/>
<circle cx="1164.2" cy="289.3" r="6.1" fill="none" stroke="#FF9AA2" stroke-width="4.1"/>
<circle cx="1189.2" cy="293.4" r="6.1" fill="none" stroke="#FF9AA2" stroke-width="4.1"/>
<circle cx="1214.1" cy="284.3" r="6.1" fill="none" stroke="#FF9AA2" stroke-width="4.1"/>
<circle cx="1239.0" cy="278.8" r="6.1" fill="none" stroke="#FF9AA2" stroke-width="4.1"/>
<circle cx="1264.0" cy="270.2" r="6.1" fill="none" stroke="#FF9AA2" stroke-width="4.1"/>
<circle cx="1288.9" cy="254.6" r="6.1" fill="none" stroke="#FF9AA2" stroke-width="4.1"/>
<circle cx="1313.8" cy="214.9" r="6.1" fill="none" stroke="#FF9AA2" stroke-width="4.1"/>
<circle cx="1338.8" cy="196.8" r="6.1" fill="none" stroke="#FF9AA2" stroke-width="4.1"/>
<circle cx="1363.7" cy="209.4" r="6.1" fill="none" stroke="#FF9AA2" stroke-width="4.1"/>
<circle cx="1388.6" cy="227.0" r="6.1" fill="none" stroke="#FF9AA2" stroke-width="4.1"/>
<circle cx="1413.5" cy="264.7" r="6.1" fill="none" stroke="#FF9AA2" stroke-width="4.1"/>
<circle cx="1438.5" cy="236.0" r="6.1" fill="none" stroke="#FF9AA2" stroke-width="4.1"/>
<circle cx="1463.4" cy="242.6" r="6.1" fill="none" stroke="#FF9AA2" stroke-width="4.1"/>
<circle cx="1488.3" cy="259.7" r="6.1" fill="none" stroke="#FF9AA2" stroke-width="4.1"/>
<circle cx="1513.3" cy="257.1" r="6.1" fill="none" stroke="#FF9AA2" stroke-width="4.1"/>
<circle cx="1538.2" cy="240.5" r="6.1" fill="none" stroke="#FF9AA2" stroke-width="4.1"/>
<path d="M964.8,271.2V307.9M958.5,271.2H971.1M958.5,307.9H971.1" stroke="#CF3BFF" stroke-width="4.2" fill="none" stroke-linecap="round"/>
<path d="M989.7,279.8V305.9M983.4,279.8H996.0M983.4,305.9H996.0" stroke="#CF3BFF" stroke-width="4.2" fill="none" stroke-linecap="round"/>
<path d="M1014.7,309.0V325.1M1008.4,309.0H1021.0M1008.4,325.1H1021.0" stroke="#CF3BFF" stroke-width="4.2" fill="none" stroke-linecap="round"/>
<path d="M1039.6,298.4V327.1M1033.3,298.4H1045.9M1033.3,327.1H1045.9" stroke="#CF3BFF" stroke-width="4.2" fill="none" stroke-linecap="round"/>
<path d="M1064.5,307.4V330.1M1058.2,307.4H1070.8M1058.2,330.1H1070.8" stroke="#CF3BFF" stroke-width="4.2" fill="none" stroke-linecap="round"/>
<path d="M1089.5,309.5V332.6M1083.2,309.5H1095.8M1083.2,332.6H1095.8" stroke="#CF3BFF" stroke-width="4.2" fill="none" stroke-linecap="round"/>
<path d="M1114.4,303.9V327.6M1108.1,303.9H1120.7M1108.1,327.6H1120.7" stroke="#CF3BFF" stroke-width="4.2" fill="none" stroke-linecap="round"/>
<path d="M1139.3,315.5V332.6M1133.0,315.5H1145.6M1133.0,332.6H1145.6" stroke="#CF3BFF" stroke-width="4.2" fill="none" stroke-linecap="round"/>
<path d="M1164.2,310.0V330.1M1157.9,310.0H1170.5M1157.9,330.1H1170.5" stroke="#CF3BFF" stroke-width="4.2" fill="none" stroke-linecap="round"/>
<path d="M1189.2,303.9V330.6M1182.9,303.9H1195.5M1182.9,330.6H1195.5" stroke="#CF3BFF" stroke-width="4.2" fill="none" stroke-linecap="round"/>
<path d="M1214.1,305.4V328.6M1207.8,305.4H1220.4M1207.8,328.6H1220.4" stroke="#CF3BFF" stroke-width="4.2" fill="none" stroke-linecap="round"/>
<path d="M1239.0,284.3V311.5M1232.7,284.3H1245.3M1232.7,311.5H1245.3" stroke="#CF3BFF" stroke-width="4.2" fill="none" stroke-linecap="round"/>
<path d="M1264.0,284.8V310.5M1257.7,284.8H1270.3M1257.7,310.5H1270.3" stroke="#CF3BFF" stroke-width="4.2" fill="none" stroke-linecap="round"/>
<path d="M1288.9,275.3V304.9M1282.6,275.3H1295.2M1282.6,304.9H1295.2" stroke="#CF3BFF" stroke-width="4.2" fill="none" stroke-linecap="round"/>
<path d="M1313.8,266.2V294.9M1307.5,266.2H1320.1M1307.5,294.9H1320.1" stroke="#CF3BFF" stroke-width="4.2" fill="none" stroke-linecap="round"/>
<path d="M1338.8,285.3V309.5M1332.5,285.3H1345.0M1332.5,309.5H1345.0" stroke="#CF3BFF" stroke-width="4.2" fill="none" stroke-linecap="round"/>
<path d="M1363.7,264.7V295.9M1357.4,264.7H1370.0M1357.4,295.9H1370.0" stroke="#CF3BFF" stroke-width="4.2" fill="none" stroke-linecap="round"/>
<path d="M1388.6,276.3V304.9M1382.3,276.3H1394.9M1382.3,304.9H1394.9" stroke="#CF3BFF" stroke-width="4.2" fill="none" stroke-linecap="round"/>
<path d="M1413.5,264.7V287.3M1407.2,264.7H1419.8M1407.2,287.3H1419.8" stroke="#CF3BFF" stroke-width="4.2" fill="none" stroke-linecap="round"/>
<path d="M1438.5,273.2V315.0M1432.2,273.2H1444.8M1432.2,315.0H1444.8" stroke="#CF3BFF" stroke-width="4.2" fill="none" stroke-linecap="round"/>
<path d="M1463.4,273.2V306.9M1457.1,273.2H1469.7M1457.1,306.9H1469.7" stroke="#CF3BFF" stroke-width="4.2" fill="none" stroke-linecap="round"/>
<path d="M1488.3,274.8V308.5M1482.0,274.8H1494.6M1482.0,308.5H1494.6" stroke="#CF3BFF" stroke-width="4.2" fill="none" stroke-linecap="round"/>
<path d="M1513.3,297.4V320.0M1507.0,297.4H1519.6M1507.0,320.0H1519.6" stroke="#CF3BFF" stroke-width="4.2" fill="none" stroke-linecap="round"/>
<path d="M1538.2,254.6V299.9M1531.9,254.6H1544.5M1531.9,299.9H1544.5" stroke="#CF3BFF" stroke-width="4.2" fill="none" stroke-linecap="round"/>
<path d="M964.8,290.3 L989.7,291.9 L1014.7,320.0 L1039.6,312.5 L1064.5,318.5 L1089.5,321.0 L1114.4,318.0 L1139.3,326.6 L1164.2,321.0 L1189.2,323.5 L1214.1,317.0 L1239.0,295.4 L1264.0,297.9 L1288.9,288.3 L1313.8,279.8 L1338.8,295.9 L1363.7,278.8 L1388.6,290.3 L1413.5,274.8 L1438.5,295.4 L1463.4,289.8 L1488.3,291.3 L1513.3,309.5 L1538.2,276.3" stroke="#CF3BFF" stroke-width="4" fill="none" stroke-linejoin="round"/>
<circle cx="964.8" cy="290.3" r="6.0" fill="#CF3BFF"/>
<circle cx="989.7" cy="291.9" r="6.0" fill="#CF3BFF"/>
<circle cx="1014.7" cy="320.0" r="6.0" fill="#CF3BFF"/>
<circle cx="1039.6" cy="312.5" r="6.0" fill="#CF3BFF"/>
<circle cx="1064.5" cy="318.5" r="6.0" fill="#CF3BFF"/>
<circle cx="1089.5" cy="321.0" r="6.0" fill="#CF3BFF"/>
<circle cx="1114.4" cy="318.0" r="6.0" fill="#CF3BFF"/>
<circle cx="1139.3" cy="326.6" r="6.0" fill="#CF3BFF"/>
<circle cx="1164.2" cy="321.0" r="6.0" fill="#CF3BFF"/>
<circle cx="1189.2" cy="323.5" r="6.0" fill="#CF3BFF"/>
<circle cx="1214.1" cy="317.0" r="6.0" fill="#CF3BFF"/>
<circle cx="1239.0" cy="295.4" r="6.0" fill="#CF3BFF"/>
<circle cx="1264.0" cy="297.9" r="6.0" fill="#CF3BFF"/>
<circle cx="1288.9" cy="288.3" r="6.0" fill="#CF3BFF"/>
<circle cx="1313.8" cy="279.8" r="6.0" fill="#CF3BFF"/>
<circle cx="1338.8" cy="295.9" r="6.0" fill="#CF3BFF"/>
<circle cx="1363.7" cy="278.8" r="6.0" fill="#CF3BFF"/>
<circle cx="1388.6" cy="290.3" r="6.0" fill="#CF3BFF"/>
<circle cx="1413.5" cy="274.8" r="6.0" fill="#CF3BFF"/>
<circle cx="1438.5" cy="295.4" r="6.0" fill="#CF3BFF"/>
<circle cx="1463.4" cy="289.8" r="6.0" fill="#CF3BFF"/>
<circle cx="1488.3" cy="291.3" r="6.0" fill="#CF3BFF"/>
<circle cx="1513.3" cy="309.5" r="6.0" fill="#CF3BFF"/>
<circle cx="1538.2" cy="276.3" r="6.0" fill="#CF3BFF"/>
<path d="M964.8,287.3V313.0M958.5,287.3H971.1M958.5,313.0H971.1" stroke="#E9BBFE" stroke-width="4.2" fill="none" stroke-linecap="round"/>
<path d="M989.7,312.0V339.1M983.4,312.0H996.0M983.4,339.1H996.0" stroke="#E9BBFE" stroke-width="4.2" fill="none" stroke-linecap="round"/>
<path d="M1014.7,325.1V343.2M1008.4,325.1H1021.0M1008.4,343.2H1021.0" stroke="#E9BBFE" stroke-width="4.2" fill="none" stroke-linecap="round"/>
<path d="M1039.6,334.6V346.2M1033.3,334.6H1045.9M1033.3,346.2H1045.9" stroke="#E9BBFE" stroke-width="4.2" fill="none" stroke-linecap="round"/>
<path d="M1064.5,324.0V347.2M1058.2,324.0H1070.8M1058.2,347.2H1070.8" stroke="#E9BBFE" stroke-width="4.2" fill="none" stroke-linecap="round"/>
<path d="M1089.5,328.1V348.7M1083.2,328.1H1095.8M1083.2,348.7H1095.8" stroke="#E9BBFE" stroke-width="4.2" fill="none" stroke-linecap="round"/>
<path d="M1114.4,330.6V348.7M1108.1,330.6H1120.7M1108.1,348.7H1120.7" stroke="#E9BBFE" stroke-width="4.2" fill="none" stroke-linecap="round"/>
<path d="M1139.3,332.6V360.3M1133.0,332.6H1145.6M1133.0,360.3H1145.6" stroke="#E9BBFE" stroke-width="4.2" fill="none" stroke-linecap="round"/>
<path d="M1164.2,327.1V348.7M1157.9,327.1H1170.5M1157.9,348.7H1170.5" stroke="#E9BBFE" stroke-width="4.2" fill="none" stroke-linecap="round"/>
<path d="M1189.2,333.1V348.7M1182.9,333.1H1195.5M1182.9,348.7H1195.5" stroke="#E9BBFE" stroke-width="4.2" fill="none" stroke-linecap="round"/>
<path d="M1214.1,321.0V334.1M1207.8,321.0H1220.4M1207.8,334.1H1220.4" stroke="#E9BBFE" stroke-width="4.2" fill="none" stroke-linecap="round"/>
<path d="M1239.0,318.0V345.7M1232.7,318.0H1245.3M1232.7,345.7H1245.3" stroke="#E9BBFE" stroke-width="4.2" fill="none" stroke-linecap="round"/>
<path d="M1264.0,306.4V329.6M1257.7,306.4H1270.3M1257.7,329.6H1270.3" stroke="#E9BBFE" stroke-width="4.2" fill="none" stroke-linecap="round"/>
<path d="M1288.9,293.4V329.6M1282.6,293.4H1295.2M1282.6,329.6H1295.2" stroke="#E9BBFE" stroke-width="4.2" fill="none" stroke-linecap="round"/>
<path d="M1313.8,304.4V329.6M1307.5,304.4H1320.1M1307.5,329.6H1320.1" stroke="#E9BBFE" stroke-width="4.2" fill="none" stroke-linecap="round"/>
<path d="M1338.8,281.3V312.0M1332.5,281.3H1345.0M1332.5,312.0H1345.0" stroke="#E9BBFE" stroke-width="4.2" fill="none" stroke-linecap="round"/>
<path d="M1363.7,289.8V312.0M1357.4,289.8H1370.0M1357.4,312.0H1370.0" stroke="#E9BBFE" stroke-width="4.2" fill="none" stroke-linecap="round"/>
<path d="M1388.6,319.0V342.7M1382.3,319.0H1394.9M1382.3,342.7H1394.9" stroke="#E9BBFE" stroke-width="4.2" fill="none" stroke-linecap="round"/>
<path d="M1413.5,297.9V326.1M1407.2,297.9H1419.8M1407.2,326.1H1419.8" stroke="#E9BBFE" stroke-width="4.2" fill="none" stroke-linecap="round"/>
<path d="M1438.5,301.9V332.1M1432.2,301.9H1444.8M1432.2,332.1H1444.8" stroke="#E9BBFE" stroke-width="4.2" fill="none" stroke-linecap="round"/>
<path d="M1463.4,317.5V341.6M1457.1,317.5H1469.7M1457.1,341.6H1469.7" stroke="#E9BBFE" stroke-width="4.2" fill="none" stroke-linecap="round"/>
<path d="M1488.3,296.4V333.6M1482.0,296.4H1494.6M1482.0,333.6H1494.6" stroke="#E9BBFE" stroke-width="4.2" fill="none" stroke-linecap="round"/>
<path d="M1513.3,303.9V329.6M1507.0,303.9H1519.6M1507.0,329.6H1519.6" stroke="#E9BBFE" stroke-width="4.2" fill="none" stroke-linecap="round"/>
<path d="M1538.2,317.5V340.1M1531.9,317.5H1544.5M1531.9,340.1H1544.5" stroke="#E9BBFE" stroke-width="4.2" fill="none" stroke-linecap="round"/>
<path d="M964.8,299.9 L989.7,325.1 L1014.7,333.6 L1039.6,340.1 L1064.5,336.6 L1089.5,338.1 L1114.4,339.1 L1139.3,345.2 L1164.2,338.1 L1189.2,340.1 L1214.1,327.6 L1239.0,330.6 L1264.0,318.0 L1288.9,311.5 L1313.8,317.0 L1338.8,296.9 L1363.7,300.9 L1388.6,331.1 L1413.5,312.0 L1438.5,316.0 L1463.4,330.1 L1488.3,314.0 L1513.3,316.0 L1538.2,328.1" stroke="#E9BBFE" stroke-width="4" fill="none" stroke-linejoin="round"/>
<circle cx="964.8" cy="299.9" r="6.1" fill="none" stroke="#E9BBFE" stroke-width="4.1"/>
<circle cx="989.7" cy="325.1" r="6.1" fill="none" stroke="#E9BBFE" stroke-width="4.1"/>
<circle cx="1014.7" cy="333.6" r="6.1" fill="none" stroke="#E9BBFE" stroke-width="4.1"/>
<circle cx="1039.6" cy="340.1" r="6.1" fill="none" stroke="#E9BBFE" stroke-width="4.1"/>
<circle cx="1064.5" cy="336.6" r="6.1" fill="none" stroke="#E9BBFE" stroke-width="4.1"/>
<circle cx="1089.5" cy="338.1" r="6.1" fill="none" stroke="#E9BBFE" stroke-width="4.1"/>
<circle cx="1114.4" cy="339.1" r="6.1" fill="none" stroke="#E9BBFE" stroke-width="4.1"/>
<circle cx="1139.3" cy="345.2" r="6.1" fill="none" stroke="#E9BBFE" stroke-width="4.1"/>
<circle cx="1164.2" cy="338.1" r="6.1" fill="none" stroke="#E9BBFE" stroke-width="4.1"/>
<circle cx="1189.2" cy="340.1" r="6.1" fill="none" stroke="#E9BBFE" stroke-width="4.1"/>
<circle cx="1214.1" cy="327.6" r="6.1" fill="none" stroke="#E9BBFE" stroke-width="4.1"/>
<circle cx="1239.0" cy="330.6" r="6.1" fill="none" stroke="#E9BBFE" stroke-width="4.1"/>
<circle cx="1264.0" cy="318.0" r="6.1" fill="none" stroke="#E9BBFE" stroke-width="4.1"/>
<circle cx="1288.9" cy="311.5" r="6.1" fill="none" stroke="#E9BBFE" stroke-width="4.1"/>
<circle cx="1313.8" cy="317.0" r="6.1" fill="none" stroke="#E9BBFE" stroke-width="4.1"/>
<circle cx="1338.8" cy="296.9" r="6.1" fill="none" stroke="#E9BBFE" stroke-width="4.1"/>
<circle cx="1363.7" cy="300.9" r="6.1" fill="none" stroke="#E9BBFE" stroke-width="4.1"/>
<circle cx="1388.6" cy="331.1" r="6.1" fill="none" stroke="#E9BBFE" stroke-width="4.1"/>
<circle cx="1413.5" cy="312.0" r="6.1" fill="none" stroke="#E9BBFE" stroke-width="4.1"/>
<circle cx="1438.5" cy="316.0" r="6.1" fill="none" stroke="#E9BBFE" stroke-width="4.1"/>
<circle cx="1463.4" cy="330.1" r="6.1" fill="none" stroke="#E9BBFE" stroke-width="4.1"/>
<circle cx="1488.3" cy="314.0" r="6.1" fill="none" stroke="#E9BBFE" stroke-width="4.1"/>
<circle cx="1513.3" cy="316.0" r="6.1" fill="none" stroke="#E9BBFE" stroke-width="4.1"/>
<circle cx="1538.2" cy="328.1" r="6.1" fill="none" stroke="#E9BBFE" stroke-width="4.1"/>
</g>
<line x1="949.3" y1="96.7" x2="949.3" y2="503.1" stroke="#000" stroke-width="4" stroke-linecap="butt"/>
<line x1="931.9" y1="501.1" x2="949.3" y2="501.1" stroke="#000" stroke-width="4" stroke-linecap="butt"/>
<text x="929.0" y="511.6" font-size="29.5" font-weight="bold" text-anchor="end" >0.0</text>
<line x1="931.9" y1="400.5" x2="949.3" y2="400.5" stroke="#000" stroke-width="4" stroke-linecap="butt"/>
<text x="929.0" y="411.0" font-size="29.5" font-weight="bold" text-anchor="end" >0.2</text>
<line x1="931.9" y1="299.9" x2="949.3" y2="299.9" stroke="#000" stroke-width="4" stroke-linecap="butt"/>
<text x="929.0" y="310.4" font-size="29.5" font-weight="bold" text-anchor="end" >0.4</text>
<line x1="931.9" y1="199.3" x2="949.3" y2="199.3" stroke="#000" stroke-width="4" stroke-linecap="butt"/>
<text x="929.0" y="209.8" font-size="29.5" font-weight="bold" text-anchor="end" >0.6</text>
<line x1="931.9" y1="98.7" x2="949.3" y2="98.7" stroke="#000" stroke-width="4" stroke-linecap="butt"/>
<text x="929.0" y="109.2" font-size="29.5" font-weight="bold" text-anchor="end" >0.8</text>
<line x1="931.9" y1="501.1" x2="1554.4" y2="501.1" stroke="#000" stroke-width="4" stroke-linecap="butt"/>
<line x1="964.8" y1="501.1" x2="964.8" y2="518.1" stroke="#000" stroke-width="4" stroke-linecap="butt"/>
<line x1="989.7" y1="501.1" x2="989.7" y2="518.1" stroke="#000" stroke-width="4" stroke-linecap="butt"/>
<line x1="1014.7" y1="501.1" x2="1014.7" y2="518.1" stroke="#000" stroke-width="4" stroke-linecap="butt"/>
<line x1="1039.6" y1="501.1" x2="1039.6" y2="518.1" stroke="#000" stroke-width="4" stroke-linecap="butt"/>
<line x1="1064.5" y1="501.1" x2="1064.5" y2="518.1" stroke="#000" stroke-width="4" stroke-linecap="butt"/>
<line x1="1089.5" y1="501.1" x2="1089.5" y2="518.1" stroke="#000" stroke-width="4" stroke-linecap="butt"/>
<line x1="1114.4" y1="501.1" x2="1114.4" y2="518.1" stroke="#000" stroke-width="4" stroke-linecap="butt"/>
<line x1="1139.3" y1="501.1" x2="1139.3" y2="518.1" stroke="#000" stroke-width="4" stroke-linecap="butt"/>
<line x1="1164.2" y1="501.1" x2="1164.2" y2="518.1" stroke="#000" stroke-width="4" stroke-linecap="butt"/>
<line x1="1189.2" y1="501.1" x2="1189.2" y2="518.1" stroke="#000" stroke-width="4" stroke-linecap="butt"/>
<line x1="1214.1" y1="501.1" x2="1214.1" y2="518.1" stroke="#000" stroke-width="4" stroke-linecap="butt"/>
<line x1="1239.0" y1="501.1" x2="1239.0" y2="518.1" stroke="#000" stroke-width="4" stroke-linecap="butt"/>
<line x1="1264.0" y1="501.1" x2="1264.0" y2="518.1" stroke="#000" stroke-width="4" stroke-linecap="butt"/>
<line x1="1288.9" y1="501.1" x2="1288.9" y2="518.1" stroke="#000" stroke-width="4" stroke-linecap="butt"/>
<line x1="1313.8" y1="501.1" x2="1313.8" y2="518.1" stroke="#000" stroke-width="4" stroke-linecap="butt"/>
<line x1="1338.8" y1="501.1" x2="1338.8" y2="518.1" stroke="#000" stroke-width="4" stroke-linecap="butt"/>
<line x1="1363.7" y1="501.1" x2="1363.7" y2="518.1" stroke="#000" stroke-width="4" stroke-linecap="butt"/>
<line x1="1388.6" y1="501.1" x2="1388.6" y2="518.1" stroke="#000" stroke-width="4" stroke-linecap="butt"/>
<line x1="1413.5" y1="501.1" x2="1413.5" y2="518.1" stroke="#000" stroke-width="4" stroke-linecap="butt"/>
<line x1="1438.5" y1="501.1" x2="1438.5" y2="518.1" stroke="#000" stroke-width="4" stroke-linecap="butt"/>
<line x1="1463.4" y1="501.1" x2="1463.4" y2="518.1" stroke="#000" stroke-width="4" stroke-linecap="butt"/>
<line x1="1488.3" y1="501.1" x2="1488.3" y2="518.1" stroke="#000" stroke-width="4" stroke-linecap="butt"/>
<line x1="1513.3" y1="501.1" x2="1513.3" y2="518.1" stroke="#000" stroke-width="4" stroke-linecap="butt"/>
<line x1="1538.2" y1="501.1" x2="1538.2" y2="518.1" stroke="#000" stroke-width="4" stroke-linecap="butt"/>
<text x="964.8" y="548.5" font-size="29.5" font-weight="bold" text-anchor="middle" >1</text>
<text x="1089.5" y="548.5" font-size="29.5" font-weight="bold" text-anchor="middle" >6</text>
<text x="1239.0" y="548.5" font-size="29.5" font-weight="bold" text-anchor="middle" >12</text>
<text x="1388.6" y="548.5" font-size="29.5" font-weight="bold" text-anchor="middle" >18</text>
<text x="1538.2" y="548.5" font-size="29.5" font-weight="bold" text-anchor="middle" >24</text>
<text x="1089.5" y="479.3" font-size="34" font-weight="bold" text-anchor="middle" >Light Cycle</text>
<text x="1389.0" y="478.9" font-size="34" font-weight="bold" text-anchor="middle" >Dark Cycle</text>
<text x="1251.0" y="597.1" font-size="32.5" font-weight="bold" text-anchor="middle" >Zeitgeber Time (Hours)</text>
<line x1="1189.6" y1="16.7" x2="1232.0" y2="16.7" stroke="#FF2600" stroke-width="4.3" stroke-linecap="round"/>
<circle cx="1211.0" cy="16.7" r="5.8" fill="#FF2600"/>
<text x="1257.0" y="26.6" font-size="27" font-weight="normal" text-anchor="start" >wt,CD</text>
<line x1="1370.4" y1="16.7" x2="1412.8" y2="16.7" stroke="#CF3BFF" stroke-width="4.3" stroke-linecap="round"/>
<circle cx="1391.8" cy="16.7" r="5.8" fill="#CF3BFF"/>
<text x="1436.4" y="26.6" font-size="27" font-weight="bold" text-anchor="start" >KO,CD</text>
<line x1="1189.6" y1="72.6" x2="1232.0" y2="72.6" stroke="#FF9AA2" stroke-width="4.3" stroke-linecap="round"/>
<circle cx="1211.0" cy="72.6" r="5.7" fill="none" stroke="#FF9AA2" stroke-width="4.2"/>
<text x="1257.0" y="82.5" font-size="27" font-weight="normal" text-anchor="start" >wt,MR</text>
<line x1="1370.4" y1="72.6" x2="1412.8" y2="72.6" stroke="#E9BBFE" stroke-width="4.3" stroke-linecap="round"/>
<circle cx="1391.8" cy="72.6" r="5.7" fill="none" stroke="#E9BBFE" stroke-width="4.2"/>
<text x="1436.4" y="82.5" font-size="27" font-weight="bold" text-anchor="start" >KO,MR</text>
<text transform="translate(29.0,299.5) rotate(-90)" font-size="33" font-weight="bold" text-anchor="middle">EE (kcal/hr)</text>
<text transform="translate(863.6,299.7) rotate(-90)" font-size="33" font-weight="bold" text-anchor="middle">EE (kcal/hr)</text>
<text x="1.0" y="56.0" font-size="60" font-weight="bold" text-anchor="start" >a</text>
<text x="826.0" y="55.0" font-size="60" font-weight="bold" text-anchor="start" >b</text>
<rect x="147.0" y="863.7" width="57.1" height="254.5" fill="#0433FF" stroke="#000" stroke-width="4"/>
<rect x="239.9" y="853.7" width="57.3" height="264.5" fill="#B5C4FC" stroke="#000" stroke-width="4"/>
<rect x="332.7" y="896.8" width="57.3" height="221.4" fill="#028A00" stroke="#000" stroke-width="4"/>
<rect x="425.4" y="936.3" width="57.8" height="181.9" fill="#9BDDA9" stroke="#000" stroke-width="4"/>
<path d="M175.3,818.6V903.7M160.3,818.6H190.3M160.3,903.7H190.3" stroke="#000" stroke-width="4" fill="none" stroke-linecap="round"/>
<circle cx="159.0" cy="814.4" r="5.9"/>
<circle cx="175.1" cy="814.4" r="5.9"/>
<circle cx="191.8" cy="813.2" r="5.9"/>
<circle cx="175.1" cy="827.5" r="5.9"/>
<circle cx="175.1" cy="844.8" r="5.9"/>
<circle cx="175.1" cy="873.3" r="5.9"/>
<circle cx="166.8" cy="900.1" r="5.9"/>
<circle cx="183.5" cy="907.3" r="5.9"/>
<circle cx="150.7" cy="911.4" r="5.9"/>
<circle cx="200.1" cy="905.5" r="5.9"/>
<path d="M268.6,823.9V879.0M253.6,823.9H283.6M253.6,879.0H283.6" stroke="#000" stroke-width="4" fill="none" stroke-linecap="round"/>
<circle cx="268.6" cy="813.8" r="5.9"/>
<circle cx="243.6" cy="829.9" r="5.9"/>
<circle cx="293.6" cy="828.7" r="5.9"/>
<circle cx="268.6" cy="832.9" r="5.9"/>
<circle cx="243.6" cy="846.0" r="5.9"/>
<circle cx="293.6" cy="844.2" r="5.9"/>
<circle cx="256.1" cy="869.2" r="5.9"/>
<circle cx="281.1" cy="865.6" r="5.9"/>
<circle cx="268.6" cy="884.0" r="5.9"/>
<circle cx="268.6" cy="900.7" r="5.9"/>
<path d="M361.4,861.1V927.1M346.4,861.1H376.4M346.4,927.1H376.4" stroke="#000" stroke-width="4" fill="none" stroke-linecap="round"/>
<circle cx="361.7" cy="841.4" r="5.9"/>
<circle cx="348.6" cy="860.5" r="5.9"/>
<circle cx="374.2" cy="865.8" r="5.9"/>
<circle cx="361.7" cy="881.9" r="5.9"/>
<circle cx="336.7" cy="893.2" r="5.9"/>
<circle cx="386.1" cy="892.6" r="5.9"/>
<circle cx="361.7" cy="908.7" r="5.9"/>
<circle cx="349.2" cy="928.3" r="5.9"/>
<circle cx="374.2" cy="928.9" r="5.9"/>
<circle cx="361.7" cy="940.8" r="5.9"/>
<path d="M454.5,899.2V969.0M439.5,899.2H469.5M439.5,969.0H469.5" stroke="#000" stroke-width="4" fill="none" stroke-linecap="round"/>
<circle cx="446.2" cy="898.6" r="5.9"/>
<circle cx="462.9" cy="896.2" r="5.9"/>
<circle cx="429.5" cy="910.5" r="5.9"/>
<circle cx="446.2" cy="918.2" r="5.9"/>
<circle cx="479.5" cy="918.8" r="5.9"/>
<circle cx="462.9" cy="923.6" r="5.9"/>
<circle cx="429.5" cy="928.3" r="5.9"/>
<circle cx="446.0" cy="976.6" r="5.9"/>
<circle cx="446.0" cy="989.4" r="5.9"/>
<circle cx="462.4" cy="981.1" r="5.9"/>
<line x1="113.9" y1="714.1" x2="113.9" y2="1120.2" stroke="#000" stroke-width="4" stroke-linecap="butt"/>
<line x1="96.6" y1="1118.2" x2="113.9" y2="1118.2" stroke="#000" stroke-width="4" stroke-linecap="butt"/>
<text x="94.3" y="1129.0" font-size="30.5" font-weight="bold" text-anchor="end" >0.0</text>
<line x1="96.6" y1="1017.7" x2="113.9" y2="1017.7" stroke="#000" stroke-width="4" stroke-linecap="butt"/>
<text x="94.3" y="1028.5" font-size="30.5" font-weight="bold" text-anchor="end" >0.2</text>
<line x1="96.6" y1="917.2" x2="113.9" y2="917.2" stroke="#000" stroke-width="4" stroke-linecap="butt"/>
<text x="94.3" y="928.0" font-size="30.5" font-weight="bold" text-anchor="end" >0.4</text>
<line x1="96.6" y1="816.6" x2="113.9" y2="816.6" stroke="#000" stroke-width="4" stroke-linecap="butt"/>
<text x="94.3" y="827.5" font-size="30.5" font-weight="bold" text-anchor="end" >0.6</text>
<line x1="96.6" y1="716.1" x2="113.9" y2="716.1" stroke="#000" stroke-width="4" stroke-linecap="butt"/>
<text x="94.3" y="726.9" font-size="30.5" font-weight="bold" text-anchor="end" >0.8</text>
<line x1="96.6" y1="1118.2" x2="516.7" y2="1118.2" stroke="#000" stroke-width="4" stroke-linecap="butt"/>
<line x1="175.3" y1="1118.2" x2="175.3" y2="1135.2" stroke="#000" stroke-width="4" stroke-linecap="butt"/>
<text transform="translate(183.3,1158.2) rotate(-45)" font-size="31" font-weight="bold" text-anchor="end">wt,CD</text>
<line x1="268.6" y1="1118.2" x2="268.6" y2="1135.2" stroke="#000" stroke-width="4" stroke-linecap="butt"/>
<text transform="translate(276.6,1158.2) rotate(-45)" font-size="31" font-weight="bold" text-anchor="end">wt,MR</text>
<line x1="361.4" y1="1118.2" x2="361.4" y2="1135.2" stroke="#000" stroke-width="4" stroke-linecap="butt"/>
<text transform="translate(369.4,1158.2) rotate(-45)" font-size="31" font-weight="bold" text-anchor="end">KO,CD</text>
<line x1="454.5" y1="1118.2" x2="454.5" y2="1135.2" stroke="#000" stroke-width="4" stroke-linecap="butt"/>
<text transform="translate(462.5,1158.2) rotate(-45)" font-size="31" font-weight="bold" text-anchor="end">KO,MR</text>
<text x="316.3" y="679.9" font-size="39" font-weight="bold" text-anchor="middle" >24 hour</text>
<rect x="984.3" y="894.4" width="57.5" height="224.9" fill="#FF2600" stroke="#000" stroke-width="4"/>
<rect x="1077.6" y="882.4" width="57.3" height="236.9" fill="#FF9AA2" stroke="#000" stroke-width="4"/>
<rect x="1170.1" y="923.2" width="57.8" height="196.1" fill="#CF3BFF" stroke="#000" stroke-width="4"/>
<rect x="1263.5" y="945.4" width="57.5" height="173.9" fill="#E9BBFE" stroke="#000" stroke-width="4"/>
<path d="M1013.1,850.8V934.4M998.1,850.8H1028.1M998.1,934.4H1028.1" stroke="#000" stroke-width="4" fill="none" stroke-linecap="round"/>
<circle cx="1013.2" cy="827.0" r="5.9"/>
<circle cx="1038.0" cy="848.1" r="5.9"/>
<circle cx="988.3" cy="857.9" r="5.9"/>
<circle cx="1013.2" cy="855.7" r="5.9"/>
<circle cx="1013.2" cy="898.4" r="5.9"/>
<circle cx="1013.2" cy="916.4" r="5.9"/>
<circle cx="988.3" cy="920.3" r="5.9"/>
<circle cx="1038.0" cy="926.5" r="5.9"/>
<circle cx="1013.2" cy="929.3" r="5.9"/>
<circle cx="1013.2" cy="946.2" r="5.9"/>
<path d="M1106.2,850.3V909.1M1091.2,850.3H1121.2M1091.2,909.1H1121.2" stroke="#000" stroke-width="4" fill="none" stroke-linecap="round"/>
<circle cx="1081.3" cy="844.4" r="5.9"/>
<circle cx="1097.6" cy="851.7" r="5.9"/>
<circle cx="1114.2" cy="849.5" r="5.9"/>
<circle cx="1081.3" cy="860.7" r="5.9"/>
<circle cx="1131.1" cy="858.7" r="5.9"/>
<circle cx="1081.3" cy="895.0" r="5.9"/>
<circle cx="1114.2" cy="893.9" r="5.9"/>
<circle cx="1097.6" cy="900.6" r="5.9"/>
<circle cx="1114.2" cy="918.1" r="5.9"/>
<circle cx="1097.6" cy="922.6" r="5.9"/>
<path d="M1199.0,883.8V957.4M1184.0,883.8H1214.0M1184.0,957.4H1214.0" stroke="#000" stroke-width="4" fill="none" stroke-linecap="round"/>
<circle cx="1199.1" cy="837.7" r="5.9"/>
<circle cx="1223.9" cy="896.7" r="5.9"/>
<circle cx="1199.1" cy="907.4" r="5.9"/>
<circle cx="1174.4" cy="932.1" r="5.9"/>
<circle cx="1199.1" cy="928.7" r="5.9"/>
<circle cx="1223.9" cy="933.2" r="5.9"/>
<circle cx="1199.1" cy="943.4" r="5.9"/>
<circle cx="1223.9" cy="948.4" r="5.9"/>
<circle cx="1174.4" cy="960.2" r="5.9"/>
<path d="M1292.2,914.9V970.9M1277.2,914.9H1307.2M1277.2,970.9H1307.2" stroke="#000" stroke-width="4" fill="none" stroke-linecap="round"/>
<circle cx="1283.7" cy="910.2" r="5.9"/>
<circle cx="1300.3" cy="907.4" r="5.9"/>
<circle cx="1267.4" cy="929.1" r="5.9"/>
<circle cx="1283.7" cy="935.5" r="5.9"/>
<circle cx="1300.3" cy="937.0" r="5.9"/>
<circle cx="1317.2" cy="932.9" r="5.9"/>
<circle cx="1291.8" cy="970.3" r="5.9"/>
<circle cx="1275.2" cy="981.9" r="5.9"/>
<circle cx="1308.2" cy="979.9" r="5.9"/>
<line x1="951.5" y1="715.0" x2="951.5" y2="1121.3" stroke="#000" stroke-width="4" stroke-linecap="butt"/>
<line x1="934.0" y1="1119.3" x2="951.5" y2="1119.3" stroke="#000" stroke-width="4" stroke-linecap="butt"/>
<text x="931.5" y="1130.1" font-size="30.5" font-weight="bold" text-anchor="end" >0.0</text>
<line x1="934.0" y1="1018.7" x2="951.5" y2="1018.7" stroke="#000" stroke-width="4" stroke-linecap="butt"/>
<text x="931.5" y="1029.5" font-size="30.5" font-weight="bold" text-anchor="end" >0.2</text>
<line x1="934.0" y1="918.1" x2="951.5" y2="918.1" stroke="#000" stroke-width="4" stroke-linecap="butt"/>
<text x="931.5" y="929.0" font-size="30.5" font-weight="bold" text-anchor="end" >0.4</text>
<line x1="934.0" y1="817.6" x2="951.5" y2="817.6" stroke="#000" stroke-width="4" stroke-linecap="butt"/>
<text x="931.5" y="828.4" font-size="30.5" font-weight="bold" text-anchor="end" >0.6</text>
<line x1="934.0" y1="717.0" x2="951.5" y2="717.0" stroke="#000" stroke-width="4" stroke-linecap="butt"/>
<text x="931.5" y="727.8" font-size="30.5" font-weight="bold" text-anchor="end" >0.8</text>
<line x1="934.0" y1="1119.3" x2="1353.3" y2="1119.3" stroke="#000" stroke-width="4" stroke-linecap="butt"/>
<line x1="1013.1" y1="1119.3" x2="1013.1" y2="1136.3" stroke="#000" stroke-width="4" stroke-linecap="butt"/>
<text transform="translate(1021.1,1159.3) rotate(-45)" font-size="31" font-weight="bold" text-anchor="end">wt,CD</text>
<line x1="1106.2" y1="1119.3" x2="1106.2" y2="1136.3" stroke="#000" stroke-width="4" stroke-linecap="butt"/>
<text transform="translate(1114.2,1159.3) rotate(-45)" font-size="31" font-weight="bold" text-anchor="end">wt,MR</text>
<line x1="1199.0" y1="1119.3" x2="1199.0" y2="1136.3" stroke="#000" stroke-width="4" stroke-linecap="butt"/>
<text transform="translate(1207.0,1159.3) rotate(-45)" font-size="31" font-weight="bold" text-anchor="end">KO,CD</text>
<line x1="1292.2" y1="1119.3" x2="1292.2" y2="1136.3" stroke="#000" stroke-width="4" stroke-linecap="butt"/>
<text transform="translate(1300.2,1159.3) rotate(-45)" font-size="31" font-weight="bold" text-anchor="end">KO,MR</text>
<path d="M1017.2,766.9H1107.3M1200.2,766.9H1290.3" stroke="#000" stroke-width="6.5" fill="none" stroke-linecap="round"/>
<path d="M1060.3,766.9V743.7H1245.8V766.9" stroke="#000" stroke-width="6.3" fill="none" stroke-linejoin="miter"/>
<text x="1153.4" y="738.9" style="font-family:'DejaVu Sans',sans-serif;font-size:47px;font-weight:bold;stroke:#000;stroke-width:1.6px;stroke-linejoin:round" text-anchor="middle">*</text>
<text x="1153.0" y="662.6" font-size="39" font-weight="bold" text-anchor="middle" >24 hour</text>
<rect x="149.6" y="1508.9" width="57.2" height="238.5" fill="#0433FF" stroke="#000" stroke-width="4"/>
<rect x="242.6" y="1498.2" width="57.3" height="249.2" fill="#B5C4FC" stroke="#000" stroke-width="4"/>
<rect x="335.4" y="1540.9" width="57.5" height="206.5" fill="#028A00" stroke="#000" stroke-width="4"/>
<rect x="428.8" y="1578.6" width="57.2" height="168.8" fill="#9BDDA9" stroke="#000" stroke-width="4"/>
<path d="M178.2,1467.0V1546.3M163.2,1467.0H193.2M163.2,1546.3H193.2" stroke="#000" stroke-width="4" fill="none" stroke-linecap="round"/>
<circle cx="153.3" cy="1464.7" r="5.9"/>
<circle cx="169.8" cy="1460.8" r="5.9"/>
<circle cx="203.0" cy="1464.2" r="5.9"/>
<circle cx="169.8" cy="1473.7" r="5.9"/>
<circle cx="178.0" cy="1486.1" r="5.9"/>
<circle cx="178.0" cy="1523.2" r="5.9"/>
<circle cx="169.8" cy="1545.7" r="5.9"/>
<circle cx="153.3" cy="1549.1" r="5.9"/>
<circle cx="186.1" cy="1548.5" r="5.9"/>
<circle cx="203.0" cy="1547.4" r="5.9"/>
<path d="M271.2,1470.1V1522.1M256.2,1470.1H286.2M256.2,1522.1H286.2" stroke="#000" stroke-width="4" fill="none" stroke-linecap="round"/>
<circle cx="271.0" cy="1461.4" r="5.9"/>
<circle cx="262.6" cy="1476.0" r="5.9"/>
<circle cx="279.4" cy="1474.9" r="5.9"/>
<circle cx="246.3" cy="1481.8" r="5.9"/>
<circle cx="279.4" cy="1492.8" r="5.9"/>
<circle cx="296.3" cy="1491.7" r="5.9"/>
<circle cx="246.3" cy="1501.3" r="5.9"/>
<circle cx="262.6" cy="1502.4" r="5.9"/>
<circle cx="271.0" cy="1525.5" r="5.9"/>
<circle cx="271.0" cy="1549.6" r="5.9"/>
<path d="M364.3,1510.5V1567.0M349.3,1510.5H379.3M349.3,1567.0H379.3" stroke="#000" stroke-width="4" fill="none" stroke-linecap="round"/>
<circle cx="352.0" cy="1501.8" r="5.9"/>
<circle cx="376.2" cy="1498.4" r="5.9"/>
<circle cx="376.2" cy="1517.5" r="5.9"/>
<circle cx="352.0" cy="1527.1" r="5.9"/>
<circle cx="376.2" cy="1535.5" r="5.9"/>
<circle cx="352.0" cy="1539.5" r="5.9"/>
<circle cx="376.2" cy="1552.4" r="5.9"/>
<circle cx="352.0" cy="1559.1" r="5.9"/>
<circle cx="376.2" cy="1572.6" r="5.9"/>
<circle cx="352.0" cy="1582.8" r="5.9"/>
<path d="M457.4,1542.3V1610.1M442.4,1542.3H472.4M442.4,1610.1H472.4" stroke="#000" stroke-width="4" fill="none" stroke-linecap="round"/>
<circle cx="465.3" cy="1527.7" r="5.9"/>
<circle cx="448.7" cy="1535.5" r="5.9"/>
<circle cx="482.2" cy="1557.5" r="5.9"/>
<circle cx="448.7" cy="1565.3" r="5.9"/>
<circle cx="432.4" cy="1573.2" r="5.9"/>
<circle cx="465.3" cy="1572.6" r="5.9"/>
<circle cx="482.2" cy="1570.4" r="5.9"/>
<circle cx="448.7" cy="1610.9" r="5.9"/>
<circle cx="465.3" cy="1618.7" r="5.9"/>
<circle cx="448.7" cy="1628.3" r="5.9"/>
<line x1="116.7" y1="1343.6" x2="116.7" y2="1749.4" stroke="#000" stroke-width="4" stroke-linecap="butt"/>
<line x1="100.0" y1="1747.4" x2="116.7" y2="1747.4" stroke="#000" stroke-width="4" stroke-linecap="butt"/>
<text x="97.0" y="1758.2" font-size="30.5" font-weight="bold" text-anchor="end" >0.0</text>
<line x1="100.0" y1="1646.9" x2="116.7" y2="1646.9" stroke="#000" stroke-width="4" stroke-linecap="butt"/>
<text x="97.0" y="1657.8" font-size="30.5" font-weight="bold" text-anchor="end" >0.2</text>
<line x1="100.0" y1="1546.5" x2="116.7" y2="1546.5" stroke="#000" stroke-width="4" stroke-linecap="butt"/>
<text x="97.0" y="1557.3" font-size="30.5" font-weight="bold" text-anchor="end" >0.4</text>
<line x1="100.0" y1="1446.0" x2="116.7" y2="1446.0" stroke="#000" stroke-width="4" stroke-linecap="butt"/>
<text x="97.0" y="1456.8" font-size="30.5" font-weight="bold" text-anchor="end" >0.6</text>
<line x1="100.0" y1="1345.6" x2="116.7" y2="1345.6" stroke="#000" stroke-width="4" stroke-linecap="butt"/>
<text x="97.0" y="1356.4" font-size="30.5" font-weight="bold" text-anchor="end" >0.8</text>
<line x1="100.0" y1="1747.4" x2="518.5" y2="1747.4" stroke="#000" stroke-width="4" stroke-linecap="butt"/>
<line x1="178.2" y1="1747.4" x2="178.2" y2="1764.4" stroke="#000" stroke-width="4" stroke-linecap="butt"/>
<text transform="translate(186.2,1787.4) rotate(-45)" font-size="31" font-weight="bold" text-anchor="end">wt,CD</text>
<line x1="271.2" y1="1747.4" x2="271.2" y2="1764.4" stroke="#000" stroke-width="4" stroke-linecap="butt"/>
<text transform="translate(279.2,1787.4) rotate(-45)" font-size="31" font-weight="bold" text-anchor="end">wt,MR</text>
<line x1="364.3" y1="1747.4" x2="364.3" y2="1764.4" stroke="#000" stroke-width="4" stroke-linecap="butt"/>
<text transform="translate(372.3,1787.4) rotate(-45)" font-size="31" font-weight="bold" text-anchor="end">KO,CD</text>
<line x1="457.4" y1="1747.4" x2="457.4" y2="1764.4" stroke="#000" stroke-width="4" stroke-linecap="butt"/>
<text transform="translate(465.4,1787.4) rotate(-45)" font-size="31" font-weight="bold" text-anchor="end">KO,MR</text>
<path d="M179.8,1395.5H269.0M365.4,1395.5H453.9" stroke="#000" stroke-width="6.5" fill="none" stroke-linecap="round"/>
<path d="M225.6,1395.5V1372.3H411.8V1395.5" stroke="#000" stroke-width="6.3" fill="none" stroke-linejoin="miter"/>
<text x="318.9" y="1367.2" style="font-family:'DejaVu Sans',sans-serif;font-size:47px;font-weight:bold;stroke:#000;stroke-width:1.6px;stroke-linejoin:round" text-anchor="middle">*</text>
<text x="318.7" y="1301.1" font-size="38" font-weight="bold" text-anchor="middle" >Light Cycle</text>
<rect x="983.4" y="1537.2" width="57.6" height="209.1" fill="#FF2600" stroke="#000" stroke-width="4"/>
<rect x="1076.5" y="1530.1" width="57.5" height="216.2" fill="#FF9AA2" stroke="#000" stroke-width="4"/>
<rect x="1169.3" y="1561.5" width="57.5" height="184.8" fill="#CF3BFF" stroke="#000" stroke-width="4"/>
<rect x="1262.6" y="1580.6" width="57.3" height="165.7" fill="#E9BBFE" stroke="#000" stroke-width="4"/>
<path d="M1012.2,1495.5V1574.8M997.2,1495.5H1027.2M997.2,1574.8H1027.2" stroke="#000" stroke-width="4" fill="none" stroke-linecap="round"/>
<circle cx="1012.1" cy="1471.4" r="5.9"/>
<circle cx="987.4" cy="1495.5" r="5.9"/>
<circle cx="1037.1" cy="1494.4" r="5.9"/>
<circle cx="1012.1" cy="1505.1" r="5.9"/>
<circle cx="1012.1" cy="1541.1" r="5.9"/>
<circle cx="987.4" cy="1560.7" r="5.9"/>
<circle cx="1037.1" cy="1561.3" r="5.9"/>
<circle cx="1012.1" cy="1568.1" r="5.9"/>
<circle cx="987.4" cy="1579.3" r="5.9"/>
<circle cx="1037.1" cy="1574.8" r="5.9"/>
<path d="M1105.3,1502.3V1553.2M1090.3,1502.3H1120.3M1090.3,1553.2H1120.3" stroke="#000" stroke-width="4" fill="none" stroke-linecap="round"/>
<circle cx="1080.5" cy="1500.6" r="5.9"/>
<circle cx="1105.2" cy="1503.7" r="5.9"/>
<circle cx="1130.2" cy="1501.2" r="5.9"/>
<circle cx="1092.8" cy="1510.7" r="5.9"/>
<circle cx="1117.6" cy="1511.6" r="5.9"/>
<circle cx="1092.8" cy="1535.5" r="5.9"/>
<circle cx="1117.6" cy="1540.0" r="5.9"/>
<circle cx="1105.2" cy="1550.1" r="5.9"/>
<circle cx="1092.8" cy="1564.1" r="5.9"/>
<circle cx="1117.6" cy="1561.9" r="5.9"/>
<path d="M1198.0,1524.3V1593.8M1183.0,1524.3H1213.0M1183.0,1593.8H1213.0" stroke="#000" stroke-width="4" fill="none" stroke-linecap="round"/>
<circle cx="1198.0" cy="1482.3" r="5.9"/>
<circle cx="1198.0" cy="1531.7" r="5.9"/>
<circle cx="1173.3" cy="1560.6" r="5.9"/>
<circle cx="1189.8" cy="1564.0" r="5.9"/>
<circle cx="1206.1" cy="1562.3" r="5.9"/>
<circle cx="1223.2" cy="1563.2" r="5.9"/>
<circle cx="1189.8" cy="1582.8" r="5.9"/>
<circle cx="1206.1" cy="1583.7" r="5.9"/>
<circle cx="1198.0" cy="1601.9" r="5.9"/>
<path d="M1291.2,1553.9V1602.2M1276.2,1553.9H1306.2M1276.2,1602.2H1306.2" stroke="#000" stroke-width="4" fill="none" stroke-linecap="round"/>
<circle cx="1266.3" cy="1556.9" r="5.9"/>
<circle cx="1316.1" cy="1551.3" r="5.9"/>
<circle cx="1299.4" cy="1556.9" r="5.9"/>
<circle cx="1282.8" cy="1563.4" r="5.9"/>
<circle cx="1299.4" cy="1573.0" r="5.9"/>
<circle cx="1282.8" cy="1579.0" r="5.9"/>
<circle cx="1282.8" cy="1599.2" r="5.9"/>
<circle cx="1299.4" cy="1607.1" r="5.9"/>
<circle cx="1282.8" cy="1617.2" r="5.9"/>
<line x1="950.4" y1="1342.4" x2="950.4" y2="1748.3" stroke="#000" stroke-width="4" stroke-linecap="butt"/>
<line x1="933.0" y1="1746.3" x2="950.4" y2="1746.3" stroke="#000" stroke-width="4" stroke-linecap="butt"/>
<text x="930.5" y="1757.1" font-size="30.5" font-weight="bold" text-anchor="end" >0.0</text>
<line x1="933.0" y1="1645.8" x2="950.4" y2="1645.8" stroke="#000" stroke-width="4" stroke-linecap="butt"/>
<text x="930.5" y="1656.6" font-size="30.5" font-weight="bold" text-anchor="end" >0.2</text>
<line x1="933.0" y1="1545.3" x2="950.4" y2="1545.3" stroke="#000" stroke-width="4" stroke-linecap="butt"/>
<text x="930.5" y="1556.2" font-size="30.5" font-weight="bold" text-anchor="end" >0.4</text>
<line x1="933.0" y1="1444.9" x2="950.4" y2="1444.9" stroke="#000" stroke-width="4" stroke-linecap="butt"/>
<text x="930.5" y="1455.7" font-size="30.5" font-weight="bold" text-anchor="end" >0.6</text>
<line x1="933.0" y1="1344.4" x2="950.4" y2="1344.4" stroke="#000" stroke-width="4" stroke-linecap="butt"/>
<text x="930.5" y="1355.2" font-size="30.5" font-weight="bold" text-anchor="end" >0.8</text>
<line x1="933.0" y1="1746.3" x2="1353.3" y2="1746.3" stroke="#000" stroke-width="4" stroke-linecap="butt"/>
<line x1="1012.2" y1="1746.3" x2="1012.2" y2="1763.3" stroke="#000" stroke-width="4" stroke-linecap="butt"/>
<text transform="translate(1020.2,1786.3) rotate(-45)" font-size="31" font-weight="bold" text-anchor="end">wt,CD</text>
<line x1="1105.3" y1="1746.3" x2="1105.3" y2="1763.3" stroke="#000" stroke-width="4" stroke-linecap="butt"/>
<text transform="translate(1113.3,1786.3) rotate(-45)" font-size="31" font-weight="bold" text-anchor="end">wt,MR</text>
<line x1="1198.0" y1="1746.3" x2="1198.0" y2="1763.3" stroke="#000" stroke-width="4" stroke-linecap="butt"/>
<text transform="translate(1206.0,1786.3) rotate(-45)" font-size="31" font-weight="bold" text-anchor="end">KO,CD</text>
<line x1="1291.2" y1="1746.3" x2="1291.2" y2="1763.3" stroke="#000" stroke-width="4" stroke-linecap="butt"/>
<text transform="translate(1299.2,1786.3) rotate(-45)" font-size="31" font-weight="bold" text-anchor="end">KO,MR</text>
<text x="1152.4" y="1288.9" font-size="38" font-weight="bold" text-anchor="middle" >Light Cycle</text>
<rect x="116.7" y="1966.2" width="402.5" height="404.3" fill="#EBEBEB"/>
<rect x="149.3" y="2101.1" width="57.5" height="269.4" fill="#0433FF" stroke="#000" stroke-width="4"/>
<rect x="242.6" y="2091.6" width="57.3" height="278.9" fill="#B5C4FC" stroke="#000" stroke-width="4"/>
<rect x="335.4" y="2134.3" width="57.5" height="236.2" fill="#028A00" stroke="#000" stroke-width="4"/>
<rect x="428.5" y="2177.0" width="57.5" height="193.5" fill="#9BDDA9" stroke="#000" stroke-width="4"/>
<path d="M178.0,2052.8V2144.7M163.0,2052.8H193.0M163.0,2144.7H193.0" stroke="#000" stroke-width="4" fill="none" stroke-linecap="round"/>
<circle cx="153.5" cy="2044.4" r="5.9"/>
<circle cx="178.2" cy="2050.2" r="5.9"/>
<circle cx="203.0" cy="2048.0" r="5.9"/>
<circle cx="178.2" cy="2063.7" r="5.9"/>
<circle cx="178.2" cy="2086.0" r="5.9"/>
<circle cx="178.2" cy="2105.6" r="5.9"/>
<circle cx="153.5" cy="2137.4" r="5.9"/>
<circle cx="178.2" cy="2146.4" r="5.9"/>
<circle cx="203.0" cy="2146.7" r="5.9"/>
<circle cx="153.5" cy="2157.0" r="5.9"/>
<path d="M271.2,2057.0V2121.6M256.2,2057.0H286.2M256.2,2121.6H286.2" stroke="#000" stroke-width="4" fill="none" stroke-linecap="round"/>
<circle cx="259.2" cy="2047.8" r="5.9"/>
<circle cx="283.4" cy="2045.7" r="5.9"/>
<circle cx="283.4" cy="2060.1" r="5.9"/>
<circle cx="259.2" cy="2071.8" r="5.9"/>
<circle cx="283.4" cy="2082.8" r="5.9"/>
<circle cx="271.0" cy="2095.8" r="5.9"/>
<circle cx="283.4" cy="2110.7" r="5.9"/>
<circle cx="259.2" cy="2120.0" r="5.9"/>
<circle cx="283.4" cy="2124.2" r="5.9"/>
<circle cx="259.2" cy="2133.4" r="5.9"/>
<path d="M364.3,2093.3V2170.5M349.3,2093.3H379.3M349.3,2170.5H379.3" stroke="#000" stroke-width="4" fill="none" stroke-linecap="round"/>
<circle cx="364.4" cy="2066.6" r="5.9"/>
<circle cx="352.0" cy="2096.1" r="5.9"/>
<circle cx="376.5" cy="2100.8" r="5.9"/>
<circle cx="352.0" cy="2110.2" r="5.9"/>
<circle cx="364.4" cy="2128.1" r="5.9"/>
<circle cx="352.0" cy="2146.1" r="5.9"/>
<circle cx="376.5" cy="2142.4" r="5.9"/>
<circle cx="352.0" cy="2167.8" r="5.9"/>
<circle cx="352.0" cy="2182.4" r="5.9"/>
<circle cx="376.5" cy="2179.5" r="5.9"/>
<path d="M457.3,2136.4V2212.5M442.3,2136.4H472.3M442.3,2212.5H472.3" stroke="#000" stroke-width="4" fill="none" stroke-linecap="round"/>
<circle cx="432.4" cy="2131.9" r="5.9"/>
<circle cx="432.4" cy="2148.0" r="5.9"/>
<circle cx="457.1" cy="2143.5" r="5.9"/>
<circle cx="482.2" cy="2145.8" r="5.9"/>
<circle cx="457.1" cy="2156.8" r="5.9"/>
<circle cx="432.4" cy="2163.0" r="5.9"/>
<circle cx="457.1" cy="2173.5" r="5.9"/>
<circle cx="457.1" cy="2224.5" r="5.9"/>
<circle cx="482.2" cy="2225.2" r="5.9"/>
<circle cx="432.4" cy="2231.9" r="5.9"/>
<line x1="116.7" y1="1966.7" x2="116.7" y2="2372.5" stroke="#000" stroke-width="4" stroke-linecap="butt"/>
<line x1="100.0" y1="2370.5" x2="116.7" y2="2370.5" stroke="#000" stroke-width="4" stroke-linecap="butt"/>
<text x="97.0" y="2381.3" font-size="30.5" font-weight="bold" text-anchor="end" >0.0</text>
<line x1="100.0" y1="2270.0" x2="116.7" y2="2270.0" stroke="#000" stroke-width="4" stroke-linecap="butt"/>
<text x="97.0" y="2280.9" font-size="30.5" font-weight="bold" text-anchor="end" >0.2</text>
<line x1="100.0" y1="2169.6" x2="116.7" y2="2169.6" stroke="#000" stroke-width="4" stroke-linecap="butt"/>
<text x="97.0" y="2180.4" font-size="30.5" font-weight="bold" text-anchor="end" >0.4</text>
<line x1="100.0" y1="2069.1" x2="116.7" y2="2069.1" stroke="#000" stroke-width="4" stroke-linecap="butt"/>
<text x="97.0" y="2079.9" font-size="30.5" font-weight="bold" text-anchor="end" >0.6</text>
<line x1="100.0" y1="1968.7" x2="116.7" y2="1968.7" stroke="#000" stroke-width="4" stroke-linecap="butt"/>
<text x="97.0" y="1979.5" font-size="30.5" font-weight="bold" text-anchor="end" >0.8</text>
<line x1="100.0" y1="2370.5" x2="518.5" y2="2370.5" stroke="#000" stroke-width="4" stroke-linecap="butt"/>
<line x1="178.0" y1="2370.5" x2="178.0" y2="2387.5" stroke="#000" stroke-width="4" stroke-linecap="butt"/>
<text transform="translate(186.0,2410.5) rotate(-45)" font-size="31" font-weight="bold" text-anchor="end">wt,CD</text>
<line x1="271.2" y1="2370.5" x2="271.2" y2="2387.5" stroke="#000" stroke-width="4" stroke-linecap="butt"/>
<text transform="translate(279.2,2410.5) rotate(-45)" font-size="31" font-weight="bold" text-anchor="end">wt,MR</text>
<line x1="364.3" y1="2370.5" x2="364.3" y2="2387.5" stroke="#000" stroke-width="4" stroke-linecap="butt"/>
<text transform="translate(372.3,2410.5) rotate(-45)" font-size="31" font-weight="bold" text-anchor="end">KO,CD</text>
<line x1="457.3" y1="2370.5" x2="457.3" y2="2387.5" stroke="#000" stroke-width="4" stroke-linecap="butt"/>
<text transform="translate(465.3,2410.5) rotate(-45)" font-size="31" font-weight="bold" text-anchor="end">KO,MR</text>
<text x="318.9" y="1934.2" font-size="38" font-weight="bold" text-anchor="middle" >Dark Cycle</text>
<rect x="951.5" y="1966.9" width="402.5" height="404.4" fill="#EBEBEB"/>
<rect x="984.3" y="2131.4" width="57.5" height="239.9" fill="#FF2600" stroke="#000" stroke-width="4"/>
<rect x="1077.6" y="2113.4" width="57.3" height="257.9" fill="#FF9AA2" stroke="#000" stroke-width="4"/>
<rect x="1170.4" y="2164.1" width="57.5" height="207.2" fill="#CF3BFF" stroke="#000" stroke-width="4"/>
<rect x="1263.8" y="2189.3" width="57.2" height="182.0" fill="#E9BBFE" stroke="#000" stroke-width="4"/>
<path d="M1013.0,2085.2V2173.2M998.0,2085.2H1028.0M998.0,2173.2H1028.0" stroke="#000" stroke-width="4" fill="none" stroke-linecap="round"/>
<circle cx="1013.2" cy="2061.9" r="5.9"/>
<circle cx="988.5" cy="2080.7" r="5.9"/>
<circle cx="988.5" cy="2094.9" r="5.9"/>
<circle cx="1013.2" cy="2089.5" r="5.9"/>
<circle cx="1013.2" cy="2135.6" r="5.9"/>
<circle cx="1038.2" cy="2151.1" r="5.9"/>
<circle cx="988.5" cy="2158.6" r="5.9"/>
<circle cx="1013.2" cy="2163.5" r="5.9"/>
<circle cx="1038.2" cy="2163.1" r="5.9"/>
<circle cx="1013.2" cy="2192.7" r="5.9"/>
<path d="M1106.2,2075.8V2145.5M1091.2,2075.8H1121.2M1091.2,2145.5H1121.2" stroke="#000" stroke-width="4" fill="none" stroke-linecap="round"/>
<circle cx="1081.3" cy="2074.6" r="5.9"/>
<circle cx="1106.0" cy="2072.6" r="5.9"/>
<circle cx="1131.1" cy="2067.5" r="5.9"/>
<circle cx="1106.0" cy="2085.5" r="5.9"/>
<circle cx="1106.0" cy="2100.5" r="5.9"/>
<circle cx="1081.3" cy="2130.5" r="5.9"/>
<circle cx="1106.0" cy="2127.1" r="5.9"/>
<circle cx="1131.1" cy="2134.4" r="5.9"/>
<circle cx="1118.7" cy="2151.9" r="5.9"/>
<circle cx="1093.6" cy="2161.7" r="5.9"/>
<path d="M1199.2,2121.6V2201.9M1184.2,2121.6H1214.2M1184.2,2201.9H1214.2" stroke="#000" stroke-width="4" fill="none" stroke-linecap="round"/>
<circle cx="1199.1" cy="2071.8" r="5.9"/>
<circle cx="1207.2" cy="2132.9" r="5.9"/>
<circle cx="1190.9" cy="2140.7" r="5.9"/>
<circle cx="1190.9" cy="2173.8" r="5.9"/>
<circle cx="1174.4" cy="2183.1" r="5.9"/>
<circle cx="1207.2" cy="2180.1" r="5.9"/>
<circle cx="1223.9" cy="2181.2" r="5.9"/>
<circle cx="1207.2" cy="2192.7" r="5.9"/>
<circle cx="1190.9" cy="2197.2" r="5.9"/>
<path d="M1292.4,2153.1V2219.7M1277.4,2153.1H1307.4M1277.4,2219.7H1307.4" stroke="#000" stroke-width="4" fill="none" stroke-linecap="round"/>
<circle cx="1279.7" cy="2143.0" r="5.9"/>
<circle cx="1304.8" cy="2143.4" r="5.9"/>
<circle cx="1292.1" cy="2172.4" r="5.9"/>
<circle cx="1267.4" cy="2180.5" r="5.9"/>
<circle cx="1317.2" cy="2174.1" r="5.9"/>
<circle cx="1292.1" cy="2185.9" r="5.9"/>
<circle cx="1292.1" cy="2220.2" r="5.9"/>
<circle cx="1267.4" cy="2231.8" r="5.9"/>
<circle cx="1317.2" cy="2226.2" r="5.9"/>
<line x1="951.5" y1="1967.4" x2="951.5" y2="2373.3" stroke="#000" stroke-width="4" stroke-linecap="butt"/>
<line x1="934.0" y1="2371.3" x2="951.5" y2="2371.3" stroke="#000" stroke-width="4" stroke-linecap="butt"/>
<text x="931.5" y="2382.1" font-size="30.5" font-weight="bold" text-anchor="end" >0.0</text>
<line x1="934.0" y1="2270.8" x2="951.5" y2="2270.8" stroke="#000" stroke-width="4" stroke-linecap="butt"/>
<text x="931.5" y="2281.6" font-size="30.5" font-weight="bold" text-anchor="end" >0.2</text>
<line x1="934.0" y1="2170.3" x2="951.5" y2="2170.3" stroke="#000" stroke-width="4" stroke-linecap="butt"/>
<text x="931.5" y="2181.2" font-size="30.5" font-weight="bold" text-anchor="end" >0.4</text>
<line x1="934.0" y1="2069.9" x2="951.5" y2="2069.9" stroke="#000" stroke-width="4" stroke-linecap="butt"/>
<text x="931.5" y="2080.7" font-size="30.5" font-weight="bold" text-anchor="end" >0.6</text>
<line x1="934.0" y1="1969.4" x2="951.5" y2="1969.4" stroke="#000" stroke-width="4" stroke-linecap="butt"/>
<text x="931.5" y="1980.2" font-size="30.5" font-weight="bold" text-anchor="end" >0.8</text>
<line x1="934.0" y1="2371.3" x2="1353.3" y2="2371.3" stroke="#000" stroke-width="4" stroke-linecap="butt"/>
<line x1="1013.0" y1="2371.3" x2="1013.0" y2="2388.3" stroke="#000" stroke-width="4" stroke-linecap="butt"/>
<text transform="translate(1021.0,2411.3) rotate(-45)" font-size="31" font-weight="bold" text-anchor="end">wt,CD</text>
<line x1="1106.2" y1="2371.3" x2="1106.2" y2="2388.3" stroke="#000" stroke-width="4" stroke-linecap="butt"/>
<text transform="translate(1114.2,2411.3) rotate(-45)" font-size="31" font-weight="bold" text-anchor="end">wt,MR</text>
<line x1="1199.2" y1="2371.3" x2="1199.2" y2="2388.3" stroke="#000" stroke-width="4" stroke-linecap="butt"/>
<text transform="translate(1207.2,2411.3) rotate(-45)" font-size="31" font-weight="bold" text-anchor="end">KO,CD</text>
<line x1="1292.4" y1="2371.3" x2="1292.4" y2="2388.3" stroke="#000" stroke-width="4" stroke-linecap="butt"/>
<text transform="translate(1300.4,2411.3) rotate(-45)" font-size="31" font-weight="bold" text-anchor="end">KO,MR</text>
<path d="M1017.7,2018.3H1107.3M1200.7,2018.3H1290.3" stroke="#000" stroke-width="6.5" fill="none" stroke-linecap="round"/>
<path d="M1060.5,2018.3V1996.4H1246.0V2018.3" stroke="#000" stroke-width="6.3" fill="none" stroke-linejoin="miter"/>
<text x="1153.4" y="1991.3" style="font-family:'DejaVu Sans',sans-serif;font-size:47px;font-weight:bold;stroke:#000;stroke-width:1.6px;stroke-linejoin:round" text-anchor="middle">*</text>
<text x="1153.7" y="1913.1" font-size="38" font-weight="bold" text-anchor="middle" >Dark Cycle</text>
<text transform="translate(24.7,916.6) rotate(-90)" font-size="33" font-weight="bold" text-anchor="middle">EE (kcal/hr)</text>
<text transform="translate(861.9,917.9) rotate(-90)" font-size="33" font-weight="bold" text-anchor="middle">EE (kcal/hr)</text>
<text transform="translate(26.9,1546.6) rotate(-90)" font-size="33" font-weight="bold" text-anchor="middle">EE (kcal/hr)</text>
<text transform="translate(861.1,1545.3) rotate(-90)" font-size="33" font-weight="bold" text-anchor="middle">EE (kcal/hr)</text>
<text transform="translate(26.9,2169.7) rotate(-90)" font-size="33" font-weight="bold" text-anchor="middle">EE (kcal/hr)</text>
<text transform="translate(861.9,2170.5) rotate(-90)" font-size="33" font-weight="bold" text-anchor="middle">EE (kcal/hr)</text>
<text x="1.0" y="674.0" font-size="60" font-weight="bold" text-anchor="start" >c</text>
<text x="820.5" y="674.5" font-size="60" font-weight="bold" text-anchor="start" >d</text>
<text x="6.5" y="1302.5" font-size="60" font-weight="bold" text-anchor="start" >e</text>
<text x="828.5" y="1297.5" font-size="60" font-weight="bold" text-anchor="start" >f</text>
<text x="1.0" y="1925.0" font-size="60" font-weight="bold" text-anchor="start" >g</text>
<text x="826.0" y="1921.0" font-size="60" font-weight="bold" text-anchor="start" >h</text>
<text transform="translate(152.1,109.6) rotate(-20.5)" x="7.3" y="27.6" style="font-family:'Liberation Sans',sans-serif;font-size:104px;stroke:#fff;stroke-width:1.2px" text-anchor="middle">♂</text>
<text x="989.0" y="132.3" style="font-family:'Liberation Sans',sans-serif;font-size:100px;font-weight:normal;stroke:#fff;stroke-width:0.7px" text-anchor="middle">♀</text>
<text transform="translate(129.5,686.7) rotate(-20.5)" x="7.3" y="27.6" style="font-family:'Liberation Sans',sans-serif;font-size:104px;stroke:#fff;stroke-width:1.2px" text-anchor="middle">♂</text>
<text x="988.5" y="733.6" style="font-family:'Liberation Sans',sans-serif;font-size:100px;font-weight:normal;stroke:#fff;stroke-width:0.7px" text-anchor="middle">♀</text>
<text transform="translate(133.3,1317.8) rotate(-20.5)" x="7.3" y="27.6" style="font-family:'Liberation Sans',sans-serif;font-size:104px;stroke:#fff;stroke-width:1.2px" text-anchor="middle">♂</text>
<text x="987.4" y="1361.0" style="font-family:'Liberation Sans',sans-serif;font-size:100px;font-weight:normal;stroke:#fff;stroke-width:0.7px" text-anchor="middle">♀</text>
<text transform="translate(132.6,1940.9) rotate(-20.5)" x="7.3" y="27.6" style="font-family:'Liberation Sans',sans-serif;font-size:104px;stroke:#fff;stroke-width:1.2px" text-anchor="middle">♂</text>
<text x="988.5" y="1986.0" style="font-family:'Liberation Sans',sans-serif;font-size:100px;font-weight:normal;stroke:#fff;stroke-width:0.7px" text-anchor="middle">♀</text>
</svg>
</body></html>
